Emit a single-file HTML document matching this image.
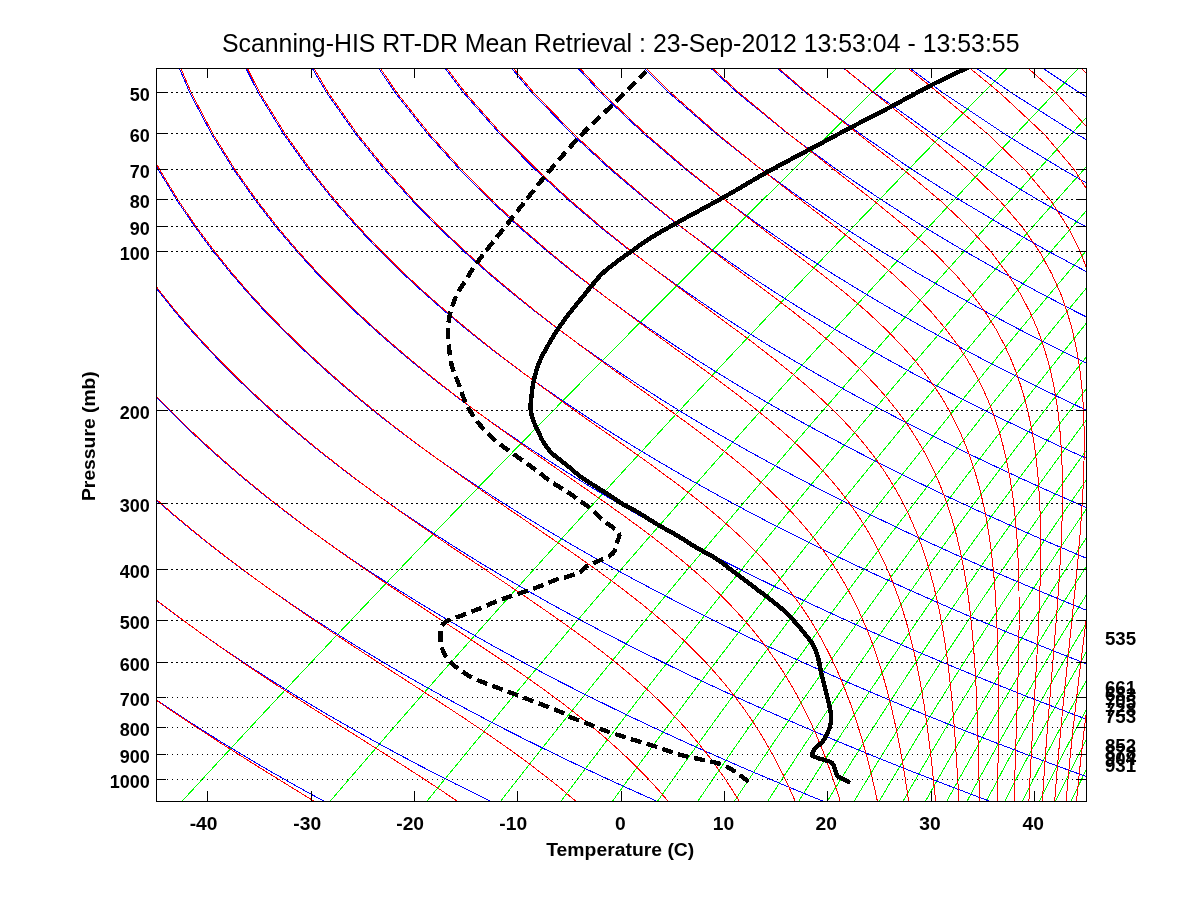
<!DOCTYPE html><html><head><meta charset="utf-8"><style>html,body{margin:0;padding:0;background:#fff;}svg{display:block}text{font-family:"Liberation Sans",Arial,Helvetica,sans-serif;}</style></head><body>
<svg width="1200" height="900" viewBox="0 0 1200 900">
<rect width="1200" height="900" fill="#fff"/>
<defs><clipPath id="c"><rect x="156" y="68" width="931" height="734"/></clipPath></defs>
<g clip-path="url(#c)" fill="none" stroke-width="1" shape-rendering="crispEdges">
<polyline points="992.1,-24.5 977.6,-10.5 963.2,3.5 948.7,17.5 934.3,31.5 919.9,45.5 905.6,59.5 891.2,73.5 876.9,87.5 862.6,101.5 848.3,115.5 834.1,129.5 819.8,143.5 805.6,157.5 791.5,171.5 777.3,185.5 763.2,199.5 749.1,213.5 735.0,227.5 720.9,241.5 706.9,255.5 692.9,269.5 678.9,283.5 665.0,297.5 651.0,311.5 637.1,325.5 623.3,339.5 609.4,353.5 595.6,367.5 581.8,381.5 568.0,395.5 554.3,409.5 540.6,423.5 526.9,437.5 513.2,451.5 499.6,465.5 486.0,479.5 472.5,493.5 458.9,507.5 445.4,521.5 431.9,535.5 418.5,549.5 405.1,563.5 391.7,577.5 378.3,591.5 365.0,605.5 351.7,619.5 338.4,633.5 325.2,647.5 312.0,661.5 298.8,675.5 285.7,689.5 272.6,703.5 259.5,717.5 246.5,731.5 233.5,745.5 220.5,759.5 207.6,773.5 194.7,787.5 181.8,801.5" stroke="#00ff00"/>
<polyline points="1099.1,-24.5 1085.2,-10.5 1071.3,3.5 1057.4,17.5 1043.6,31.5 1029.7,45.5 1015.9,59.5 1002.2,73.5 988.4,87.5 974.7,101.5 961.0,115.5 947.4,129.5 933.7,143.5 920.1,157.5 906.5,171.5 893.0,185.5 879.5,199.5 866.0,213.5 852.5,227.5 839.1,241.5 825.7,255.5 812.3,269.5 799.0,283.5 785.7,297.5 772.4,311.5 759.2,325.5 746.0,339.5 732.8,353.5 719.7,367.5 706.6,381.5 693.5,395.5 680.4,409.5 667.4,423.5 654.5,437.5 641.5,451.5 628.6,465.5 615.7,479.5 602.9,493.5 590.1,507.5 577.3,521.5 564.6,535.5 551.9,549.5 539.2,563.5 526.6,577.5 514.0,591.5 501.5,605.5 489.0,619.5 476.5,633.5 464.1,647.5 451.7,661.5 439.3,675.5 427.0,689.5 414.8,703.5 402.5,717.5 390.3,731.5 378.2,745.5 366.1,759.5 354.0,773.5 342.0,787.5 330.0,801.5" stroke="#00ff00"/>
<polyline points="1167.8,-24.5 1154.3,-10.5 1140.7,3.5 1127.2,17.5 1113.7,31.5 1100.3,45.5 1086.9,59.5 1073.5,73.5 1060.1,87.5 1046.8,101.5 1033.5,115.5 1020.2,129.5 1007.0,143.5 993.8,157.5 980.6,171.5 967.5,185.5 954.4,199.5 941.3,213.5 928.3,227.5 915.3,241.5 902.3,255.5 889.4,269.5 876.5,283.5 863.6,297.5 850.8,311.5 838.0,325.5 825.3,339.5 812.6,353.5 799.9,367.5 787.2,381.5 774.6,395.5 762.0,409.5 749.5,423.5 737.0,437.5 724.6,451.5 712.1,465.5 699.8,479.5 687.4,493.5 675.1,507.5 662.9,521.5 650.6,535.5 638.5,549.5 626.3,563.5 614.2,577.5 602.2,591.5 590.2,605.5 578.2,619.5 566.3,633.5 554.4,647.5 542.6,661.5 530.8,675.5 519.0,689.5 507.3,703.5 495.7,717.5 484.0,731.5 472.5,745.5 461.0,759.5 449.5,773.5 438.1,787.5 426.7,801.5" stroke="#00ff00"/>
<polyline points="1219.6,-24.5 1206.3,-10.5 1193.0,3.5 1179.8,17.5 1166.6,31.5 1153.5,45.5 1140.4,59.5 1127.3,73.5 1114.2,87.5 1101.2,101.5 1088.2,115.5 1075.3,129.5 1062.3,143.5 1049.5,157.5 1036.6,171.5 1023.8,185.5 1011.0,199.5 998.3,213.5 985.6,227.5 972.9,241.5 960.3,255.5 947.7,269.5 935.1,283.5 922.6,297.5 910.1,311.5 897.7,325.5 885.3,339.5 872.9,353.5 860.6,367.5 848.3,381.5 836.1,395.5 823.9,409.5 811.7,423.5 799.6,437.5 787.5,451.5 775.5,465.5 763.5,479.5 751.5,493.5 739.6,507.5 727.8,521.5 716.0,535.5 704.2,549.5 692.5,563.5 680.8,577.5 669.1,591.5 657.5,605.5 646.0,619.5 634.5,633.5 623.1,647.5 611.7,661.5 600.3,675.5 589.0,689.5 577.8,703.5 566.5,717.5 555.4,731.5 544.3,745.5 533.2,759.5 522.3,773.5 511.3,787.5 500.4,801.5" stroke="#00ff00"/>
<polyline points="1261.6,-24.5 1248.5,-10.5 1235.5,3.5 1222.5,17.5 1209.6,31.5 1196.7,45.5 1183.8,59.5 1171.0,73.5 1158.2,87.5 1145.4,101.5 1132.7,115.5 1120.0,129.5 1107.3,143.5 1094.7,157.5 1082.1,171.5 1069.6,185.5 1057.1,199.5 1044.6,213.5 1032.2,227.5 1019.8,241.5 1007.4,255.5 995.1,269.5 982.8,283.5 970.6,297.5 958.4,311.5 946.3,325.5 934.2,339.5 922.1,353.5 910.1,367.5 898.1,381.5 886.2,395.5 874.3,409.5 862.4,423.5 850.6,437.5 838.8,451.5 827.1,465.5 815.5,479.5 803.8,493.5 792.3,507.5 780.7,521.5 769.3,535.5 757.8,549.5 746.4,563.5 735.1,577.5 723.8,591.5 712.6,605.5 701.4,619.5 690.2,633.5 679.2,647.5 668.1,661.5 657.1,675.5 646.2,689.5 635.3,703.5 624.5,717.5 613.8,731.5 603.0,745.5 592.4,759.5 581.8,773.5 571.2,787.5 560.8,801.5" stroke="#00ff00"/>
<polyline points="1297.1,-24.5 1284.3,-10.5 1271.5,3.5 1258.7,17.5 1246.0,31.5 1233.3,45.5 1220.6,59.5 1208.0,73.5 1195.4,87.5 1182.9,101.5 1170.3,115.5 1157.9,129.5 1145.4,143.5 1133.1,157.5 1120.7,171.5 1108.4,185.5 1096.1,199.5 1083.9,213.5 1071.7,227.5 1059.5,241.5 1047.4,255.5 1035.4,269.5 1023.3,283.5 1011.4,297.5 999.4,311.5 987.5,325.5 975.7,339.5 963.9,353.5 952.1,367.5 940.4,381.5 928.7,395.5 917.1,409.5 905.5,423.5 894.0,437.5 882.5,451.5 871.1,465.5 859.7,479.5 848.3,493.5 837.0,507.5 825.8,521.5 814.6,535.5 803.5,549.5 792.4,563.5 781.3,577.5 770.4,591.5 759.4,605.5 748.6,619.5 737.7,633.5 727.0,647.5 716.2,661.5 705.6,675.5 695.0,689.5 684.4,703.5 673.9,717.5 663.5,731.5 653.1,745.5 642.8,759.5 632.6,773.5 622.4,787.5 612.3,801.5" stroke="#00ff00"/>
<polyline points="1328.1,-24.5 1315.4,-10.5 1302.8,3.5 1290.2,17.5 1277.7,31.5 1265.2,45.5 1252.7,59.5 1240.3,73.5 1227.9,87.5 1215.5,101.5 1203.2,115.5 1190.9,129.5 1178.7,143.5 1166.5,157.5 1154.3,171.5 1142.2,185.5 1130.2,199.5 1118.1,213.5 1106.2,227.5 1094.2,241.5 1082.3,255.5 1070.5,269.5 1058.7,283.5 1046.9,297.5 1035.2,311.5 1023.5,325.5 1011.9,339.5 1000.3,353.5 988.8,367.5 977.3,381.5 965.9,395.5 954.5,409.5 943.2,423.5 931.9,437.5 920.6,451.5 909.4,465.5 898.3,479.5 887.2,493.5 876.2,507.5 865.2,521.5 854.3,535.5 843.4,549.5 832.6,563.5 821.8,577.5 811.1,591.5 800.4,605.5 789.8,619.5 779.3,633.5 768.8,647.5 758.4,661.5 748.0,675.5 737.7,689.5 727.4,703.5 717.2,717.5 707.1,731.5 697.0,745.5 687.0,759.5 677.1,773.5 667.2,787.5 657.4,801.5" stroke="#00ff00"/>
<polyline points="1355.6,-24.5 1343.1,-10.5 1330.6,3.5 1318.2,17.5 1305.8,31.5 1293.5,45.5 1281.2,59.5 1268.9,73.5 1256.7,87.5 1244.5,101.5 1232.4,115.5 1220.3,129.5 1208.2,143.5 1196.2,157.5 1184.3,171.5 1172.3,185.5 1160.5,199.5 1148.6,213.5 1136.8,227.5 1125.1,241.5 1113.4,255.5 1101.7,269.5 1090.1,283.5 1078.6,297.5 1067.0,311.5 1055.6,325.5 1044.2,339.5 1032.8,353.5 1021.5,367.5 1010.2,381.5 999.0,395.5 987.8,409.5 976.7,423.5 965.6,437.5 954.6,451.5 943.6,465.5 932.7,479.5 921.9,493.5 911.1,507.5 900.3,521.5 889.6,535.5 879.0,549.5 868.4,563.5 857.9,577.5 847.4,591.5 837.0,605.5 826.6,619.5 816.3,633.5 806.1,647.5 795.9,661.5 785.8,675.5 775.8,689.5 765.8,703.5 755.9,717.5 746.0,731.5 736.2,745.5 726.5,759.5 716.8,773.5 707.2,787.5 697.7,801.5" stroke="#00ff00"/>
<polyline points="1380.3,-24.5 1368.0,-10.5 1355.7,3.5 1343.4,17.5 1331.2,31.5 1319.0,45.5 1306.9,59.5 1294.8,73.5 1282.7,87.5 1270.7,101.5 1258.7,115.5 1246.8,129.5 1234.9,143.5 1223.0,157.5 1211.2,171.5 1199.5,185.5 1187.8,199.5 1176.1,213.5 1164.5,227.5 1152.9,241.5 1141.4,255.5 1129.9,269.5 1118.5,283.5 1107.1,297.5 1095.8,311.5 1084.5,325.5 1073.3,339.5 1062.1,353.5 1051.0,367.5 1039.9,381.5 1028.9,395.5 1017.9,409.5 1007.0,423.5 996.1,437.5 985.3,451.5 974.5,465.5 963.8,479.5 953.2,493.5 942.6,507.5 932.0,521.5 921.6,535.5 911.1,549.5 900.8,563.5 890.5,577.5 880.2,591.5 870.1,605.5 859.9,619.5 849.9,633.5 839.9,647.5 829.9,661.5 820.1,675.5 810.3,689.5 800.5,703.5 790.8,717.5 781.2,731.5 771.7,745.5 762.2,759.5 752.8,773.5 743.5,787.5 734.2,801.5" stroke="#00ff00"/>
<polyline points="1402.9,-24.5 1390.7,-10.5 1378.5,3.5 1366.4,17.5 1354.3,31.5 1342.3,45.5 1330.3,59.5 1318.3,73.5 1306.4,87.5 1294.5,101.5 1282.7,115.5 1270.9,129.5 1259.2,143.5 1247.5,157.5 1235.9,171.5 1224.3,185.5 1212.7,199.5 1201.2,213.5 1189.8,227.5 1178.3,241.5 1167.0,255.5 1155.7,269.5 1144.4,283.5 1133.2,297.5 1122.0,311.5 1110.9,325.5 1099.9,339.5 1088.9,353.5 1077.9,367.5 1067.0,381.5 1056.2,395.5 1045.4,409.5 1034.6,423.5 1024.0,437.5 1013.3,451.5 1002.8,465.5 992.2,479.5 981.8,493.5 971.4,507.5 961.0,521.5 950.8,535.5 940.6,549.5 930.4,563.5 920.3,577.5 910.3,591.5 900.3,605.5 890.4,619.5 880.5,633.5 870.7,647.5 861.0,661.5 851.4,675.5 841.8,689.5 832.3,703.5 822.8,717.5 813.5,731.5 804.1,745.5 794.9,759.5 785.7,773.5 776.6,787.5 767.6,801.5" stroke="#00ff00"/>
<polyline points="1423.7,-24.5 1411.6,-10.5 1399.6,3.5 1387.6,17.5 1375.6,31.5 1363.7,45.5 1351.8,59.5 1340.0,73.5 1328.2,87.5 1316.5,101.5 1304.8,115.5 1293.2,129.5 1281.6,143.5 1270.0,157.5 1258.5,171.5 1247.1,185.5 1235.7,199.5 1224.3,213.5 1213.0,227.5 1201.7,241.5 1190.5,255.5 1179.4,269.5 1168.3,283.5 1157.2,297.5 1146.2,311.5 1135.2,325.5 1124.4,339.5 1113.5,353.5 1102.7,367.5 1092.0,381.5 1081.3,395.5 1070.7,409.5 1060.1,423.5 1049.6,437.5 1039.2,451.5 1028.8,465.5 1018.4,479.5 1008.2,493.5 997.9,507.5 987.8,521.5 977.7,535.5 967.7,549.5 957.7,563.5 947.8,577.5 937.9,591.5 928.2,605.5 918.5,619.5 908.8,633.5 899.2,647.5 889.7,661.5 880.3,675.5 870.9,689.5 861.6,703.5 852.4,717.5 843.2,731.5 834.1,745.5 825.1,759.5 816.1,773.5 807.3,787.5 798.5,801.5" stroke="#00ff00"/>
<polyline points="1442.9,-24.5 1430.9,-10.5 1419.0,3.5 1407.1,17.5 1395.3,31.5 1383.5,45.5 1371.8,59.5 1360.1,73.5 1348.4,87.5 1336.8,101.5 1325.3,115.5 1313.7,129.5 1302.3,143.5 1290.9,157.5 1279.5,171.5 1268.2,185.5 1256.9,199.5 1245.7,213.5 1234.5,227.5 1223.4,241.5 1212.3,255.5 1201.3,269.5 1190.4,283.5 1179.5,297.5 1168.6,311.5 1157.8,325.5 1147.1,339.5 1136.4,353.5 1125.7,367.5 1115.2,381.5 1104.6,395.5 1094.2,409.5 1083.8,423.5 1073.4,437.5 1063.1,451.5 1052.9,465.5 1042.7,479.5 1032.6,493.5 1022.6,507.5 1012.6,521.5 1002.7,535.5 992.8,549.5 983.0,563.5 973.3,577.5 963.6,591.5 954.1,605.5 944.5,619.5 935.1,633.5 925.7,647.5 916.4,661.5 907.1,675.5 897.9,689.5 888.8,703.5 879.8,717.5 870.8,731.5 861.9,745.5 853.1,759.5 844.4,773.5 835.7,787.5 827.2,801.5" stroke="#00ff00"/>
<polyline points="1460.8,-24.5 1448.9,-10.5 1437.1,3.5 1425.4,17.5 1413.6,31.5 1402.0,45.5 1390.3,59.5 1378.8,73.5 1367.2,87.5 1355.7,101.5 1344.3,115.5 1332.9,129.5 1321.6,143.5 1310.3,157.5 1299.1,171.5 1287.9,185.5 1276.7,199.5 1265.6,213.5 1254.6,227.5 1243.6,241.5 1232.7,255.5 1221.8,269.5 1211.0,283.5 1200.2,297.5 1189.5,311.5 1178.8,325.5 1168.2,339.5 1157.7,353.5 1147.2,367.5 1136.8,381.5 1126.4,395.5 1116.1,409.5 1105.8,423.5 1095.6,437.5 1085.5,451.5 1075.4,465.5 1065.4,479.5 1055.5,493.5 1045.6,507.5 1035.8,521.5 1026.0,535.5 1016.3,549.5 1006.7,563.5 997.1,577.5 987.6,591.5 978.2,605.5 968.9,619.5 959.6,633.5 950.4,647.5 941.2,661.5 932.2,675.5 923.2,689.5 914.3,703.5 905.4,717.5 896.7,731.5 888.0,745.5 879.3,759.5 870.8,773.5 862.3,787.5 854.0,801.5" stroke="#00ff00"/>
<polyline points="1477.5,-24.5 1465.8,-10.5 1454.1,3.5 1442.4,17.5 1430.8,31.5 1419.3,45.5 1407.7,59.5 1396.3,73.5 1384.9,87.5 1373.5,101.5 1362.2,115.5 1350.9,129.5 1339.7,143.5 1328.5,157.5 1317.4,171.5 1306.3,185.5 1295.3,199.5 1284.3,213.5 1273.4,227.5 1262.5,241.5 1251.7,255.5 1241.0,269.5 1230.3,283.5 1219.6,297.5 1209.1,311.5 1198.5,325.5 1188.1,339.5 1177.7,353.5 1167.3,367.5 1157.0,381.5 1146.8,395.5 1136.6,409.5 1126.5,423.5 1116.4,437.5 1106.5,451.5 1096.5,465.5 1086.7,479.5 1076.9,493.5 1067.1,507.5 1057.5,521.5 1047.9,535.5 1038.3,549.5 1028.9,563.5 1019.5,577.5 1010.2,591.5 1000.9,605.5 991.7,619.5 982.6,633.5 973.6,647.5 964.6,661.5 955.7,675.5 946.9,689.5 938.1,703.5 929.5,717.5 920.9,731.5 912.4,745.5 904.0,759.5 895.6,773.5 887.3,787.5 879.1,801.5" stroke="#00ff00"/>
<polyline points="1493.3,-24.5 1481.6,-10.5 1470.0,3.5 1458.5,17.5 1447.0,31.5 1435.5,45.5 1424.1,59.5 1412.7,73.5 1401.4,87.5 1390.2,101.5 1378.9,115.5 1367.8,129.5 1356.7,143.5 1345.6,157.5 1334.6,171.5 1323.6,185.5 1312.7,199.5 1301.9,213.5 1291.1,227.5 1280.3,241.5 1269.7,255.5 1259.0,269.5 1248.5,283.5 1237.9,297.5 1227.5,311.5 1217.1,325.5 1206.7,339.5 1196.5,353.5 1186.2,367.5 1176.1,381.5 1166.0,395.5 1155.9,409.5 1146.0,423.5 1136.0,437.5 1126.2,451.5 1116.4,465.5 1106.7,479.5 1097.0,493.5 1087.4,507.5 1077.9,521.5 1068.5,535.5 1059.1,549.5 1049.8,563.5 1040.5,577.5 1031.4,591.5 1022.3,605.5 1013.2,619.5 1004.3,633.5 995.4,647.5 986.6,661.5 977.9,675.5 969.2,689.5 960.6,703.5 952.2,717.5 943.7,731.5 935.4,745.5 927.1,759.5 919.0,773.5 910.9,787.5 902.9,801.5" stroke="#00ff00"/>
<polyline points="1508.1,-24.5 1496.6,-10.5 1485.1,3.5 1473.6,17.5 1462.2,31.5 1450.8,45.5 1439.5,59.5 1428.3,73.5 1417.0,87.5 1405.9,101.5 1394.8,115.5 1383.7,129.5 1372.7,143.5 1361.7,157.5 1350.8,171.5 1340.0,185.5 1329.2,199.5 1318.5,213.5 1307.8,227.5 1297.1,241.5 1286.6,255.5 1276.1,269.5 1265.6,283.5 1255.2,297.5 1244.9,311.5 1234.6,325.5 1224.4,339.5 1214.2,353.5 1204.1,367.5 1194.1,381.5 1184.1,395.5 1174.2,409.5 1164.3,423.5 1154.6,437.5 1144.8,451.5 1135.2,465.5 1125.6,479.5 1116.1,493.5 1106.6,507.5 1097.2,521.5 1087.9,535.5 1078.7,549.5 1069.5,563.5 1060.4,577.5 1051.4,591.5 1042.5,605.5 1033.6,619.5 1024.8,633.5 1016.0,647.5 1007.4,661.5 998.8,675.5 990.3,689.5 981.9,703.5 973.6,717.5 965.3,731.5 957.2,745.5 949.1,759.5 941.1,773.5 933.2,787.5 925.3,801.5" stroke="#00ff00"/>
<polyline points="1522.2,-24.5 1510.7,-10.5 1499.3,3.5 1487.9,17.5 1476.6,31.5 1465.3,45.5 1454.1,59.5 1442.9,73.5 1431.8,87.5 1420.8,101.5 1409.7,115.5 1398.8,129.5 1387.9,143.5 1377.0,157.5 1366.2,171.5 1355.5,185.5 1344.8,199.5 1334.2,213.5 1323.6,227.5 1313.1,241.5 1302.6,255.5 1292.2,269.5 1281.8,283.5 1271.6,297.5 1261.3,311.5 1251.2,325.5 1241.1,339.5 1231.0,353.5 1221.0,367.5 1211.1,381.5 1201.3,395.5 1191.5,409.5 1181.7,423.5 1172.1,437.5 1162.5,451.5 1153.0,465.5 1143.5,479.5 1134.1,493.5 1124.8,507.5 1115.6,521.5 1106.4,535.5 1097.3,549.5 1088.2,563.5 1079.3,577.5 1070.4,591.5 1061.6,605.5 1052.9,619.5 1044.2,633.5 1035.6,647.5 1027.1,661.5 1018.7,675.5 1010.4,689.5 1002.1,703.5 993.9,717.5 985.8,731.5 977.8,745.5 969.9,759.5 962.1,773.5 954.3,787.5 946.6,801.5" stroke="#00ff00"/>
<polyline points="1535.5,-24.5 1524.1,-10.5 1512.8,3.5 1501.5,17.5 1490.3,31.5 1479.1,45.5 1468.0,59.5 1456.9,73.5 1445.9,87.5 1434.9,101.5 1424.0,115.5 1413.1,129.5 1402.3,143.5 1391.5,157.5 1380.8,171.5 1370.2,185.5 1359.6,199.5 1349.1,213.5 1338.6,227.5 1328.2,241.5 1317.8,255.5 1307.5,269.5 1297.3,283.5 1287.1,297.5 1277.0,311.5 1266.9,325.5 1256.9,339.5 1247.0,353.5 1237.1,367.5 1227.3,381.5 1217.6,395.5 1207.9,409.5 1198.3,423.5 1188.7,437.5 1179.3,451.5 1169.9,465.5 1160.5,479.5 1151.3,493.5 1142.1,507.5 1133.0,521.5 1123.9,535.5 1114.9,549.5 1106.0,563.5 1097.2,577.5 1088.5,591.5 1079.8,605.5 1071.2,619.5 1062.7,633.5 1054.2,647.5 1045.9,661.5 1037.6,675.5 1029.4,689.5 1021.3,703.5 1013.3,717.5 1005.3,731.5 997.4,745.5 989.7,759.5 982.0,773.5 974.4,787.5 966.9,801.5" stroke="#00ff00"/>
<polyline points="1548.1,-24.5 1536.8,-10.5 1525.6,3.5 1514.4,17.5 1503.2,31.5 1492.2,45.5 1481.1,59.5 1470.1,73.5 1459.2,87.5 1448.3,101.5 1437.5,115.5 1426.7,129.5 1416.0,143.5 1405.3,157.5 1394.7,171.5 1384.2,185.5 1373.7,199.5 1363.2,213.5 1352.8,227.5 1342.5,241.5 1332.3,255.5 1322.1,269.5 1311.9,283.5 1301.8,297.5 1291.8,311.5 1281.9,325.5 1272.0,339.5 1262.2,353.5 1252.4,367.5 1242.7,381.5 1233.1,395.5 1223.5,409.5 1214.0,423.5 1204.6,437.5 1195.2,451.5 1186.0,465.5 1176.7,479.5 1167.6,493.5 1158.5,507.5 1149.5,521.5 1140.6,535.5 1131.7,549.5 1123.0,563.5 1114.3,577.5 1105.6,591.5 1097.1,605.5 1088.6,619.5 1080.3,633.5 1071.9,647.5 1063.7,661.5 1055.6,675.5 1047.5,689.5 1039.6,703.5 1031.7,717.5 1023.9,731.5 1016.2,745.5 1008.5,759.5 1001.0,773.5 993.6,787.5 986.2,801.5" stroke="#00ff00"/>
<polyline points="1560.2,-24.5 1549.0,-10.5 1537.8,3.5 1526.7,17.5 1515.6,31.5 1504.6,45.5 1493.7,59.5 1482.7,73.5 1471.9,87.5 1461.1,101.5 1450.4,115.5 1439.7,129.5 1429.0,143.5 1418.5,157.5 1407.9,171.5 1397.5,185.5 1387.1,199.5 1376.7,213.5 1366.4,227.5 1356.2,241.5 1346.1,255.5 1335.9,269.5 1325.9,283.5 1315.9,297.5 1306.0,311.5 1296.2,325.5 1286.4,339.5 1276.6,353.5 1267.0,367.5 1257.4,381.5 1247.9,395.5 1238.4,409.5 1229.0,423.5 1219.7,437.5 1210.5,451.5 1201.3,465.5 1192.2,479.5 1183.2,493.5 1174.2,507.5 1165.3,521.5 1156.5,535.5 1147.8,549.5 1139.1,563.5 1130.5,577.5 1122.1,591.5 1113.6,605.5 1105.3,619.5 1097.0,633.5 1088.9,647.5 1080.8,661.5 1072.8,675.5 1064.8,689.5 1057.0,703.5 1049.2,717.5 1041.6,731.5 1034.0,745.5 1026.5,759.5 1019.1,773.5 1011.8,787.5 1004.6,801.5" stroke="#00ff00"/>
<polyline points="1571.7,-24.5 1560.6,-10.5 1549.5,3.5 1538.4,17.5 1527.4,31.5 1516.5,45.5 1505.6,59.5 1494.8,73.5 1484.0,87.5 1473.3,101.5 1462.7,115.5 1452.0,129.5 1441.5,143.5 1431.0,157.5 1420.6,171.5 1410.2,185.5 1399.9,199.5 1389.6,213.5 1379.4,227.5 1369.3,241.5 1359.2,255.5 1349.2,269.5 1339.3,283.5 1329.4,297.5 1319.6,311.5 1309.8,325.5 1300.1,339.5 1290.5,353.5 1280.9,367.5 1271.4,381.5 1262.0,395.5 1252.7,409.5 1243.4,423.5 1234.2,437.5 1225.0,451.5 1216.0,465.5 1207.0,479.5 1198.0,493.5 1189.2,507.5 1180.4,521.5 1171.7,535.5 1163.1,549.5 1154.6,563.5 1146.1,577.5 1137.7,591.5 1129.4,605.5 1121.2,619.5 1113.1,633.5 1105.0,647.5 1097.1,661.5 1089.2,675.5 1081.4,689.5 1073.7,703.5 1066.1,717.5 1058.5,731.5 1051.1,745.5 1043.7,759.5 1036.5,773.5 1029.3,787.5 1022.3,801.5" stroke="#00ff00"/>
<polyline points="1582.7,-24.5 1571.6,-10.5 1560.6,3.5 1549.6,17.5 1538.7,31.5 1527.9,45.5 1517.1,59.5 1506.3,73.5 1495.6,87.5 1485.0,101.5 1474.4,115.5 1463.9,129.5 1453.4,143.5 1443.0,157.5 1432.7,171.5 1422.4,185.5 1412.1,199.5 1402.0,213.5 1391.8,227.5 1381.8,241.5 1371.8,255.5 1361.9,269.5 1352.0,283.5 1342.2,297.5 1332.5,311.5 1322.8,325.5 1313.2,339.5 1303.7,353.5 1294.3,367.5 1284.9,381.5 1275.5,395.5 1266.3,409.5 1257.1,423.5 1248.0,437.5 1239.0,451.5 1230.0,465.5 1221.1,479.5 1212.3,493.5 1203.5,507.5 1194.9,521.5 1186.3,535.5 1177.8,549.5 1169.4,563.5 1161.0,577.5 1152.7,591.5 1144.6,605.5 1136.5,619.5 1128.4,633.5 1120.5,647.5 1112.7,661.5 1104.9,675.5 1097.2,689.5 1089.7,703.5 1082.2,717.5 1074.8,731.5 1067.5,745.5 1060.2,759.5 1053.1,773.5 1046.1,787.5 1039.2,801.5" stroke="#00ff00"/>
<polyline points="1593.2,-24.5 1582.2,-10.5 1571.3,3.5 1560.4,17.5 1549.5,31.5 1538.8,45.5 1528.0,59.5 1517.4,73.5 1506.7,87.5 1496.2,101.5 1485.7,115.5 1475.2,129.5 1464.8,143.5 1454.5,157.5 1444.2,171.5 1434.0,185.5 1423.9,199.5 1413.8,213.5 1403.7,227.5 1393.8,241.5 1383.9,255.5 1374.0,269.5 1364.3,283.5 1354.6,297.5 1344.9,311.5 1335.3,325.5 1325.8,339.5 1316.4,353.5 1307.0,367.5 1297.7,381.5 1288.5,395.5 1279.3,409.5 1270.3,423.5 1261.2,437.5 1252.3,451.5 1243.4,465.5 1234.6,479.5 1225.9,493.5 1217.3,507.5 1208.7,521.5 1200.3,535.5 1191.9,549.5 1183.5,563.5 1175.3,577.5 1167.1,591.5 1159.1,605.5 1151.1,619.5 1143.2,633.5 1135.4,647.5 1127.6,661.5 1120.0,675.5 1112.4,689.5 1105.0,703.5 1097.6,717.5 1090.3,731.5 1083.1,745.5 1076.1,759.5 1069.1,773.5 1062.2,787.5 1055.4,801.5" stroke="#00ff00"/>
<polyline points="1603.3,-24.5 1592.4,-10.5 1581.5,3.5 1570.7,17.5 1559.9,31.5 1549.2,45.5 1538.5,59.5 1527.9,73.5 1517.4,87.5 1506.9,101.5 1496.5,115.5 1486.1,129.5 1475.8,143.5 1465.5,157.5 1455.3,171.5 1445.2,185.5 1435.1,199.5 1425.1,213.5 1415.1,227.5 1405.3,241.5 1395.4,255.5 1385.7,269.5 1376.0,283.5 1366.4,297.5 1356.8,311.5 1347.3,325.5 1337.9,339.5 1328.6,353.5 1319.3,367.5 1310.1,381.5 1300.9,395.5 1291.9,409.5 1282.9,423.5 1273.9,437.5 1265.1,451.5 1256.3,465.5 1247.6,479.5 1239.0,493.5 1230.5,507.5 1222.0,521.5 1213.6,535.5 1205.3,549.5 1197.1,563.5 1189.0,577.5 1180.9,591.5 1173.0,605.5 1165.1,619.5 1157.3,633.5 1149.6,647.5 1142.0,661.5 1134.5,675.5 1127.0,689.5 1119.7,703.5 1112.4,717.5 1105.3,731.5 1098.2,745.5 1091.2,759.5 1084.4,773.5 1077.6,787.5 1070.9,801.5" stroke="#00ff00"/>
<polyline points="1613.0,-24.5 1602.1,-10.5 1591.3,3.5 1580.6,17.5 1569.8,31.5 1559.2,45.5 1548.6,59.5 1538.1,73.5 1527.6,87.5 1517.2,101.5 1506.8,115.5 1496.5,129.5 1486.3,143.5 1476.1,157.5 1466.0,171.5 1455.9,185.5 1445.9,199.5 1436.0,213.5 1426.1,227.5 1416.3,241.5 1406.6,255.5 1396.9,269.5 1387.3,283.5 1377.7,297.5 1368.2,311.5 1358.8,325.5 1349.5,339.5 1340.2,353.5 1331.0,367.5 1321.9,381.5 1312.9,395.5 1303.9,409.5 1295.0,423.5 1286.2,437.5 1277.4,451.5 1268.7,465.5 1260.1,479.5 1251.6,493.5 1243.2,507.5 1234.8,521.5 1226.5,535.5 1218.3,549.5 1210.2,563.5 1202.2,577.5 1194.2,591.5 1186.4,605.5 1178.6,619.5 1170.9,633.5 1163.3,647.5 1155.8,661.5 1148.4,675.5 1141.1,689.5 1133.8,703.5 1126.7,717.5 1119.6,731.5 1112.7,745.5 1105.9,759.5 1099.1,773.5 1092.5,787.5 1085.9,801.5" stroke="#00ff00"/>
<polyline points="1622.3,-24.5 1611.5,-10.5 1600.7,3.5 1590.0,17.5 1579.4,31.5 1568.8,45.5 1558.3,59.5 1547.8,73.5 1537.4,87.5 1527.1,101.5 1516.8,115.5 1506.5,129.5 1496.4,143.5 1486.2,157.5 1476.2,171.5 1466.2,185.5 1456.3,199.5 1446.4,213.5 1436.6,227.5 1426.9,241.5 1417.2,255.5 1407.6,269.5 1398.1,283.5 1388.6,297.5 1379.2,311.5 1369.9,325.5 1360.7,339.5 1351.5,353.5 1342.4,367.5 1333.3,381.5 1324.3,395.5 1315.5,409.5 1306.6,423.5 1297.9,437.5 1289.2,451.5 1280.6,465.5 1272.1,479.5 1263.7,493.5 1255.3,507.5 1247.1,521.5 1238.9,535.5 1230.8,549.5 1222.8,563.5 1214.8,577.5 1207.0,591.5 1199.2,605.5 1191.6,619.5 1184.0,633.5 1176.5,647.5 1169.1,661.5 1161.8,675.5 1154.5,689.5 1147.4,703.5 1140.4,717.5 1133.5,731.5 1126.6,745.5 1119.9,759.5 1113.3,773.5 1106.7,787.5 1100.3,801.5" stroke="#00ff00"/>
<polyline points="1631.2,-24.5 1620.5,-10.5 1609.8,3.5 1599.2,17.5 1588.6,31.5 1578.1,45.5 1567.6,59.5 1557.2,73.5 1546.9,87.5 1536.6,101.5 1526.3,115.5 1516.2,129.5 1506.1,143.5 1496.0,157.5 1486.0,171.5 1476.1,185.5 1466.3,199.5 1456.5,213.5 1446.7,227.5 1437.1,241.5 1427.5,255.5 1418.0,269.5 1408.5,283.5 1399.1,297.5 1389.8,311.5 1380.6,325.5 1371.4,339.5 1362.3,353.5 1353.2,367.5 1344.3,381.5 1335.4,395.5 1326.6,409.5 1317.8,423.5 1309.2,437.5 1300.6,451.5 1292.1,465.5 1283.7,479.5 1275.3,493.5 1267.1,507.5 1258.9,521.5 1250.8,535.5 1242.8,549.5 1234.9,563.5 1227.0,577.5 1219.3,591.5 1211.6,605.5 1204.0,619.5 1196.6,633.5 1189.2,647.5 1181.9,661.5 1174.7,675.5 1167.5,689.5 1160.5,703.5 1153.6,717.5 1146.8,731.5 1140.1,745.5 1133.4,759.5 1126.9,773.5 1120.5,787.5 1114.2,801.5" stroke="#00ff00"/>
<polyline points="1639.8,-24.5 1629.2,-10.5 1618.5,3.5 1607.9,17.5 1597.4,31.5 1587.0,45.5 1576.6,59.5 1566.2,73.5 1555.9,87.5 1545.7,101.5 1535.5,115.5 1525.4,129.5 1515.4,143.5 1505.4,157.5 1495.5,171.5 1485.7,185.5 1475.9,199.5 1466.1,213.5 1456.5,227.5 1446.9,241.5 1437.4,255.5 1427.9,269.5 1418.5,283.5 1409.2,297.5 1400.0,311.5 1390.8,325.5 1381.7,339.5 1372.7,353.5 1363.7,367.5 1354.8,381.5 1346.0,395.5 1337.3,409.5 1328.6,423.5 1320.1,437.5 1311.6,451.5 1303.2,465.5 1294.8,479.5 1286.6,493.5 1278.4,507.5 1270.3,521.5 1262.3,535.5 1254.4,549.5 1246.5,563.5 1238.8,577.5 1231.1,591.5 1223.5,605.5 1216.1,619.5 1208.7,633.5 1201.4,647.5 1194.2,661.5 1187.1,675.5 1180.1,689.5 1173.1,703.5 1166.3,717.5 1159.6,731.5 1153.0,745.5 1146.5,759.5 1140.1,773.5 1133.8,787.5 1127.6,801.5" stroke="#00ff00"/>
<polyline points="-232.8,-117.5 -265.2,-24.5 -281.3,41.5 -289.5,92.7 -293.2,134.5 -294.1,169.8 -293.2,200.4 -291.0,227.5 -287.9,251.6 -284.2,273.5 -279.9,293.4 -275.4,311.8 -270.5,328.8 -265.5,344.6 -260.3,359.4 -254.9,373.3 -249.5,386.4 -244.1,398.8 -238.5,410.6 -233.0,421.8 -227.5,432.4 -221.9,442.6 -216.4,452.4 -210.8,461.7 -205.3,470.7 -199.8,479.4 -194.3,487.7 -188.8,495.8 -183.4,503.5 -178.0,511.1 -172.6,518.3 -167.3,525.4 -162.0,532.3 -156.7,538.9 -151.5,545.4 -146.3,551.6 -141.1,557.8 -136.0,563.7 -130.9,569.5 -125.8,575.2 -120.8,580.7 -115.8,586.1 -110.9,591.4 -105.9,596.5 -101.0,601.6 -96.2,606.5 -91.3,611.3 -86.6,616.1 -81.8,620.7 -77.1,625.2 -72.4,629.7 -67.7,634.1 -63.1,638.3 -58.5,642.5 -53.9,646.7 -49.3,650.7 -44.8,654.7 -40.3,658.6 -35.9,662.5 -31.4,666.3 -27.0,670.0 -22.7,673.7 -18.3,677.3 -14.0,680.9 -9.7,684.4 -5.4,687.8 -1.2,691.2 3.0,694.6 7.2,697.9 11.4,701.1 15.6,704.3 19.7,707.5 23.8,710.6 27.9,713.7 31.9,716.7 35.9,719.7 39.9,722.7 43.9,725.6 47.9,728.5 51.8,731.3 55.8,734.1 59.7,736.9 63.6,739.7 67.4,742.4 71.3,745.1 75.1,747.7 78.9,750.3 82.7,752.9 86.4,755.5 90.2,758.0 93.9,760.5 97.6,763.0 101.3,765.5 105.0,767.9 108.6,770.3 112.3,772.7 115.9,775.0 119.5,777.3 123.1,779.6 126.7,781.9 130.2,784.2 133.8,786.4 137.3,788.6 140.8,790.8 144.3,793.0 147.8,795.2 151.2,797.3 154.7,799.4 158.1,801.5" stroke="#0000ff"/>
<polyline points="-180.2,-117.5 -206.1,-24.5 -217.1,41.5 -221.1,92.7 -221.1,134.5 -218.7,169.8 -214.8,200.4 -209.9,227.5 -204.4,251.6 -198.3,273.5 -191.9,293.4 -185.3,311.8 -178.5,328.8 -171.6,344.6 -164.6,359.4 -157.6,373.3 -150.6,386.4 -143.6,398.8 -136.6,410.6 -129.6,421.8 -122.7,432.4 -115.8,442.6 -108.9,452.4 -102.1,461.7 -95.3,470.7 -88.6,479.4 -82.0,487.7 -75.4,495.8 -68.8,503.5 -62.3,511.1 -55.9,518.3 -49.5,525.4 -43.2,532.3 -37.0,538.9 -30.7,545.4 -24.6,551.6 -18.5,557.8 -12.4,563.7 -6.4,569.5 -0.5,575.2 5.4,580.7 11.3,586.1 17.1,591.4 22.8,596.5 28.5,601.6 34.2,606.5 39.8,611.3 45.4,616.1 50.9,620.7 56.4,625.2 61.8,629.7 67.3,634.1 72.6,638.3 77.9,642.5 83.2,646.7 88.5,650.7 93.7,654.7 98.8,658.6 104.0,662.5 109.1,666.3 114.1,670.0 119.2,673.7 124.2,677.3 129.1,680.9 134.0,684.4 138.9,687.8 143.8,691.2 148.6,694.6 153.4,697.9 158.2,701.1 162.9,704.3 167.6,707.5 172.3,710.6 177.0,713.7 181.6,716.7 186.2,719.7 190.8,722.7 195.3,725.6 199.8,728.5 204.3,731.3 208.8,734.1 213.2,736.9 217.6,739.7 222.0,742.4 226.4,745.1 230.7,747.7 235.0,750.3 239.3,752.9 243.6,755.5 247.8,758.0 252.0,760.5 256.2,763.0 260.4,765.5 264.6,767.9 268.7,770.3 272.8,772.7 276.9,775.0 281.0,777.3 285.1,779.6 289.1,781.9 293.1,784.2 297.1,786.4 301.1,788.6 305.0,790.8 309.0,793.0 312.9,795.2 316.8,797.3 320.7,799.4 324.6,801.5" stroke="#0000ff"/>
<polyline points="-127.6,-117.5 -147.0,-24.5 -152.9,41.5 -152.6,92.7 -148.9,134.5 -143.3,169.8 -136.5,200.4 -128.9,227.5 -120.8,251.6 -112.4,273.5 -103.8,293.4 -95.2,311.8 -86.4,328.8 -77.7,344.6 -69.0,359.4 -60.3,373.3 -51.7,386.4 -43.1,398.8 -34.6,410.6 -26.2,421.8 -17.8,432.4 -9.6,442.6 -1.4,452.4 6.6,461.7 14.6,470.7 22.5,479.4 30.4,487.7 38.1,495.8 45.8,503.5 53.3,511.1 60.8,518.3 68.2,525.4 75.6,532.3 82.8,538.9 90.0,545.4 97.1,551.6 104.2,557.8 111.1,563.7 118.0,569.5 124.9,575.2 131.6,580.7 138.3,586.1 145.0,591.4 151.6,596.5 158.1,601.6 164.6,606.5 171.0,611.3 177.3,616.1 183.6,620.7 189.9,625.2 196.1,629.7 202.2,634.1 208.3,638.3 214.3,642.5 220.3,646.7 226.3,650.7 232.2,654.7 238.0,658.6 243.8,662.5 249.6,666.3 255.3,670.0 261.0,673.7 266.6,677.3 272.2,680.9 277.8,684.4 283.3,687.8 288.8,691.2 294.2,694.6 299.6,697.9 305.0,701.1 310.3,704.3 315.6,707.5 320.9,710.6 326.1,713.7 331.3,716.7 336.4,719.7 341.6,722.7 346.7,725.6 351.7,728.5 356.8,731.3 361.8,734.1 366.7,736.9 371.7,739.7 376.6,742.4 381.5,745.1 386.3,747.7 391.1,750.3 395.9,752.9 400.7,755.5 405.5,758.0 410.2,760.5 414.9,763.0 419.5,765.5 424.2,767.9 428.8,770.3 433.4,772.7 438.0,775.0 442.5,777.3 447.0,779.6 451.5,781.9 456.0,784.2 460.5,786.4 464.9,788.6 469.3,790.8 473.7,793.0 478.1,795.2 482.4,797.3 486.7,799.4 491.0,801.5" stroke="#0000ff"/>
<polyline points="-75.0,-117.5 -87.9,-24.5 -88.7,41.5 -84.1,92.7 -76.8,134.5 -67.9,169.8 -58.1,200.4 -47.8,227.5 -37.2,251.6 -26.5,273.5 -15.8,293.4 -5.1,311.8 5.6,328.8 16.2,344.6 26.7,359.4 37.0,373.3 47.3,386.4 57.4,398.8 67.4,410.6 77.2,421.8 87.0,432.4 96.6,442.6 106.0,452.4 115.4,461.7 124.6,470.7 133.7,479.4 142.7,487.7 151.6,495.8 160.3,503.5 169.0,511.1 177.5,518.3 186.0,525.4 194.3,532.3 202.6,538.9 210.8,545.4 218.8,551.6 226.8,557.8 234.7,563.7 242.5,569.5 250.2,575.2 257.9,580.7 265.4,586.1 272.9,591.4 280.3,596.5 287.7,601.6 294.9,606.5 302.1,611.3 309.3,616.1 316.3,620.7 323.3,625.2 330.3,629.7 337.2,634.1 344.0,638.3 350.7,642.5 357.4,646.7 364.1,650.7 370.7,654.7 377.2,658.6 383.7,662.5 390.1,666.3 396.5,670.0 402.8,673.7 409.1,677.3 415.3,680.9 421.5,684.4 427.6,687.8 433.7,691.2 439.8,694.6 445.8,697.9 451.8,701.1 457.7,704.3 463.6,707.5 469.4,710.6 475.2,713.7 481.0,716.7 486.7,719.7 492.4,722.7 498.0,725.6 503.6,728.5 509.2,731.3 514.7,734.1 520.2,736.9 525.7,739.7 531.2,742.4 536.6,745.1 541.9,747.7 547.3,750.3 552.6,752.9 557.9,755.5 563.1,758.0 568.3,760.5 573.5,763.0 578.7,765.5 583.8,767.9 588.9,770.3 594.0,772.7 599.0,775.0 604.0,777.3 609.0,779.6 614.0,781.9 618.9,784.2 623.8,786.4 628.7,788.6 633.6,790.8 638.4,793.0 643.2,795.2 648.0,797.3 652.8,799.4 657.5,801.5" stroke="#0000ff"/>
<polyline points="-22.3,-117.5 -28.8,-24.5 -24.5,41.5 -15.7,92.7 -4.6,134.5 7.5,169.8 20.3,200.4 33.3,227.5 46.3,251.6 59.3,273.5 72.3,293.4 85.0,311.8 97.6,328.8 110.1,344.6 122.3,359.4 134.4,373.3 146.2,386.4 157.9,398.8 169.4,410.6 180.7,421.8 191.8,432.4 202.7,442.6 213.5,452.4 224.1,461.7 234.6,470.7 244.9,479.4 255.0,487.7 265.1,495.8 274.9,503.5 284.7,511.1 294.3,518.3 303.8,525.4 313.1,532.3 322.4,538.9 331.5,545.4 340.5,551.6 349.4,557.8 358.3,563.7 367.0,569.5 375.6,575.2 384.1,580.7 392.5,586.1 400.8,591.4 409.1,596.5 417.2,601.6 425.3,606.5 433.3,611.3 441.2,616.1 449.0,620.7 456.8,625.2 464.5,629.7 472.1,634.1 479.7,638.3 487.1,642.5 494.5,646.7 501.9,650.7 509.2,654.7 516.4,658.6 523.5,662.5 530.6,666.3 537.7,670.0 544.6,673.7 551.6,677.3 558.4,680.9 565.2,684.4 572.0,687.8 578.7,691.2 585.4,694.6 592.0,697.9 598.5,701.1 605.1,704.3 611.5,707.5 617.9,710.6 624.3,713.7 630.6,716.7 636.9,719.7 643.2,722.7 649.4,725.6 655.5,728.5 661.7,731.3 667.7,734.1 673.8,736.9 679.8,739.7 685.7,742.4 691.7,745.1 697.5,747.7 703.4,750.3 709.2,752.9 715.0,755.5 720.7,758.0 726.5,760.5 732.1,763.0 737.8,765.5 743.4,767.9 749.0,770.3 754.5,772.7 760.0,775.0 765.5,777.3 771.0,779.6 776.4,781.9 781.8,784.2 787.2,786.4 792.5,788.6 797.8,790.8 803.1,793.0 808.4,795.2 813.6,797.3 818.8,799.4 824.0,801.5" stroke="#0000ff"/>
<polyline points="30.3,-117.5 30.3,-24.5 39.7,41.5 52.8,92.7 67.5,134.5 82.9,169.8 98.6,200.4 114.3,227.5 129.9,251.6 145.2,273.5 160.3,293.4 175.1,311.8 189.7,328.8 204.0,344.6 218.0,359.4 231.7,373.3 245.2,386.4 258.4,398.8 271.3,410.6 284.1,421.8 296.6,432.4 308.9,442.6 321.0,452.4 332.9,461.7 344.5,470.7 356.0,479.4 367.4,487.7 378.5,495.8 389.5,503.5 400.3,511.1 411.0,518.3 421.5,525.4 431.9,532.3 442.2,538.9 452.3,545.4 462.2,551.6 472.1,557.8 481.8,563.7 491.4,569.5 500.9,575.2 510.3,580.7 519.6,586.1 528.8,591.4 537.8,596.5 546.8,601.6 555.7,606.5 564.5,611.3 573.2,616.1 581.8,620.7 590.3,625.2 598.7,629.7 607.1,634.1 615.3,638.3 623.5,642.5 631.6,646.7 639.7,650.7 647.7,654.7 655.6,658.6 663.4,662.5 671.1,666.3 678.8,670.0 686.5,673.7 694.0,677.3 701.5,680.9 709.0,684.4 716.4,687.8 723.7,691.2 731.0,694.6 738.2,697.9 745.3,701.1 752.4,704.3 759.5,707.5 766.5,710.6 773.4,713.7 780.3,716.7 787.2,719.7 794.0,722.7 800.7,725.6 807.4,728.5 814.1,731.3 820.7,734.1 827.3,736.9 833.8,739.7 840.3,742.4 846.8,745.1 853.2,747.7 859.5,750.3 865.9,752.9 872.1,755.5 878.4,758.0 884.6,760.5 890.8,763.0 896.9,765.5 903.0,767.9 909.1,770.3 915.1,772.7 921.1,775.0 927.0,777.3 933.0,779.6 938.8,781.9 944.7,784.2 950.5,786.4 956.3,788.6 962.1,790.8 967.8,793.0 973.5,795.2 979.2,797.3 984.8,799.4 990.5,801.5" stroke="#0000ff"/>
<polyline points="82.9,-117.5 89.4,-24.5 103.9,41.5 121.2,92.7 139.7,134.5 158.4,169.8 177.0,200.4 195.4,227.5 213.4,251.6 231.1,273.5 248.4,293.4 265.2,311.8 281.7,328.8 297.8,344.6 313.6,359.4 329.0,373.3 344.1,386.4 358.9,398.8 373.3,410.6 387.5,421.8 401.4,432.4 415.0,442.6 428.4,452.4 441.6,461.7 454.5,470.7 467.2,479.4 479.7,487.7 492.0,495.8 504.1,503.5 516.0,511.1 527.7,518.3 539.3,525.4 550.7,532.3 561.9,538.9 573.0,545.4 583.9,551.6 594.7,557.8 605.4,563.7 615.9,569.5 626.3,575.2 636.5,580.7 646.7,586.1 656.7,591.4 666.6,596.5 676.4,601.6 686.1,606.5 695.6,611.3 705.1,616.1 714.5,620.7 723.7,625.2 732.9,629.7 742.0,634.1 751.0,638.3 759.9,642.5 768.7,646.7 777.5,650.7 786.1,654.7 794.7,658.6 803.2,662.5 811.7,666.3 820.0,670.0 828.3,673.7 836.5,677.3 844.6,680.9 852.7,684.4 860.7,687.8 868.7,691.2 876.5,694.6 884.4,697.9 892.1,701.1 899.8,704.3 907.5,707.5 915.0,710.6 922.6,713.7 930.0,716.7 937.4,719.7 944.8,722.7 952.1,725.6 959.4,728.5 966.6,731.3 973.7,734.1 980.8,736.9 987.9,739.7 994.9,742.4 1001.9,745.1 1008.8,747.7 1015.7,750.3 1022.5,752.9 1029.3,755.5 1036.0,758.0 1042.7,760.5 1049.4,763.0 1056.0,765.5 1062.6,767.9 1069.1,770.3 1075.6,772.7 1082.1,775.0 1088.5,777.3 1094.9,779.6 1101.3,781.9 1107.6,784.2 1113.9,786.4 1120.1,788.6 1126.4,790.8 1132.5,793.0 1138.7,795.2 1144.8,797.3 1150.9,799.4 1156.9,801.5" stroke="#0000ff"/>
<polyline points="135.5,-117.5 148.5,-24.5 168.1,41.5 189.7,92.7 211.8,134.5 233.8,169.8 255.4,200.4 276.4,227.5 297.0,251.6 317.0,273.5 336.4,293.4 355.3,311.8 373.8,328.8 391.7,344.6 409.2,359.4 426.3,373.3 443.0,386.4 459.3,398.8 475.3,410.6 490.9,421.8 506.2,432.4 521.2,442.6 535.9,452.4 550.3,461.7 564.5,470.7 578.4,479.4 592.0,487.7 605.5,495.8 618.7,503.5 631.7,511.1 644.5,518.3 657.1,525.4 669.5,532.3 681.7,538.9 693.8,545.4 705.7,551.6 717.4,557.8 728.9,563.7 740.4,569.5 751.6,575.2 762.8,580.7 773.7,586.1 784.6,591.4 795.3,596.5 805.9,601.6 816.4,606.5 826.8,611.3 837.0,616.1 847.2,620.7 857.2,625.2 867.1,629.7 877.0,634.1 886.7,638.3 896.3,642.5 905.9,646.7 915.3,650.7 924.6,654.7 933.9,658.6 943.1,662.5 952.2,666.3 961.2,670.0 970.1,673.7 979.0,677.3 987.8,680.9 996.5,684.4 1005.1,687.8 1013.6,691.2 1022.1,694.6 1030.6,697.9 1038.9,701.1 1047.2,704.3 1055.4,707.5 1063.6,710.6 1071.7,713.7 1079.7,716.7 1087.7,719.7 1095.6,722.7 1103.5,725.6 1111.3,728.5 1119.0,731.3 1126.7,734.1 1134.4,736.9 1141.9,739.7 1149.5,742.4 1157.0,745.1 1164.4,747.7 1171.8,750.3 1179.1,752.9 1186.4,755.5 1193.7,758.0 1200.9,760.5 1208.0,763.0 1215.1,765.5 1222.2,767.9 1229.2,770.3 1236.2,772.7 1243.1,775.0 1250.0,777.3 1256.9,779.6 1263.7,781.9 1270.5,784.2 1277.2,786.4 1283.9,788.6 1290.6,790.8 1297.2,793.0 1303.8,795.2 1310.4,797.3 1316.9,799.4 1323.4,801.5" stroke="#0000ff"/>
<polyline points="188.1,-117.5 207.7,-24.5 232.3,41.5 258.2,92.7 283.9,134.5 309.2,169.8 333.7,200.4 357.5,227.5 380.5,251.6 402.8,273.5 424.5,293.4 445.4,311.8 465.8,328.8 485.6,344.6 504.9,359.4 523.7,373.3 542.0,386.4 559.8,398.8 577.3,410.6 594.3,421.8 611.0,432.4 627.4,442.6 643.4,452.4 659.1,461.7 674.4,470.7 689.5,479.4 704.4,487.7 718.9,495.8 733.3,503.5 747.4,511.1 761.2,518.3 774.8,525.4 788.3,532.3 801.5,538.9 814.5,545.4 827.4,551.6 840.0,557.8 852.5,563.7 864.8,569.5 877.0,575.2 889.0,580.7 900.8,586.1 912.5,591.4 924.1,596.5 935.5,601.6 946.8,606.5 958.0,611.3 969.0,616.1 979.9,620.7 990.7,625.2 1001.4,629.7 1011.9,634.1 1022.4,638.3 1032.7,642.5 1043.0,646.7 1053.1,650.7 1063.1,654.7 1073.1,658.6 1082.9,662.5 1092.7,666.3 1102.4,670.0 1112.0,673.7 1121.4,677.3 1130.9,680.9 1140.2,684.4 1149.4,687.8 1158.6,691.2 1167.7,694.6 1176.7,697.9 1185.7,701.1 1194.6,704.3 1203.4,707.5 1212.1,710.6 1220.8,713.7 1229.4,716.7 1237.9,719.7 1246.4,722.7 1254.8,725.6 1263.2,728.5 1271.5,731.3 1279.7,734.1 1287.9,736.9 1296.0,739.7 1304.1,742.4 1312.1,745.1 1320.0,747.7 1327.9,750.3 1335.8,752.9 1343.6,755.5 1351.3,758.0 1359.0,760.5 1366.7,763.0 1374.3,765.5 1381.8,767.9 1389.3,770.3 1396.8,772.7 1404.2,775.0 1411.6,777.3 1418.9,779.6 1426.2,781.9 1433.4,784.2 1440.6,786.4 1447.8,788.6 1454.9,790.8 1462.0,793.0 1469.0,795.2 1476.0,797.3 1482.9,799.4 1489.9,801.5" stroke="#0000ff"/>
<polyline points="240.7,-117.5 266.8,-24.5 296.5,41.5 326.6,92.7 356.1,134.5 384.6,169.8 412.1,200.4 438.6,227.5 464.1,251.6 488.7,273.5 512.5,293.4 535.5,311.8 557.9,328.8 579.5,344.6 600.5,359.4 621.0,373.3 640.9,386.4 660.3,398.8 679.3,410.6 697.8,421.8 715.8,432.4 733.5,442.6 750.8,452.4 767.8,461.7 784.4,470.7 800.7,479.4 816.7,487.7 832.4,495.8 847.9,503.5 863.0,511.1 877.9,518.3 892.6,525.4 907.1,532.3 921.3,538.9 935.3,545.4 949.1,551.6 962.7,557.8 976.1,563.7 989.3,569.5 1002.3,575.2 1015.2,580.7 1027.9,586.1 1040.5,591.4 1052.8,596.5 1065.1,601.6 1077.2,606.5 1089.1,611.3 1100.9,616.1 1112.6,620.7 1124.2,625.2 1135.6,629.7 1146.9,634.1 1158.1,638.3 1169.1,642.5 1180.1,646.7 1190.9,650.7 1201.6,654.7 1212.3,658.6 1222.8,662.5 1233.2,666.3 1243.5,670.0 1253.8,673.7 1263.9,677.3 1274.0,680.9 1283.9,684.4 1293.8,687.8 1303.6,691.2 1313.3,694.6 1322.9,697.9 1332.5,701.1 1341.9,704.3 1351.3,707.5 1360.7,710.6 1369.9,713.7 1379.1,716.7 1388.2,719.7 1397.2,722.7 1406.2,725.6 1415.1,728.5 1423.9,731.3 1432.7,734.1 1441.4,736.9 1450.1,739.7 1458.6,742.4 1467.2,745.1 1475.6,747.7 1484.0,750.3 1492.4,752.9 1500.7,755.5 1508.9,758.0 1517.1,760.5 1525.3,763.0 1533.4,765.5 1541.4,767.9 1549.4,770.3 1557.3,772.7 1565.2,775.0 1573.1,777.3 1580.9,779.6 1588.6,781.9 1596.3,784.2 1604.0,786.4 1611.6,788.6 1619.1,790.8 1626.7,793.0 1634.1,795.2 1641.6,797.3 1649.0,799.4 1656.3,801.5" stroke="#0000ff"/>
<polyline points="293.3,-117.5 325.9,-24.5 360.7,41.5 395.1,92.7 428.2,134.5 460.0,169.8 490.4,200.4 519.6,227.5 547.6,251.6 574.6,273.5 600.6,293.4 625.6,311.8 649.9,328.8 673.4,344.6 696.2,359.4 718.3,373.3 739.8,386.4 760.8,398.8 781.2,410.6 801.2,421.8 820.7,432.4 839.7,442.6 858.3,452.4 876.5,461.7 894.4,470.7 911.9,479.4 929.1,487.7 945.9,495.8 962.4,503.5 978.7,511.1 994.7,518.3 1010.4,525.4 1025.8,532.3 1041.0,538.9 1056.0,545.4 1070.8,551.6 1085.3,557.8 1099.6,563.7 1113.8,569.5 1127.7,575.2 1141.4,580.7 1155.0,586.1 1168.4,591.4 1181.6,596.5 1194.6,601.6 1207.5,606.5 1220.3,611.3 1232.9,616.1 1245.3,620.7 1257.6,625.2 1269.8,629.7 1281.8,634.1 1293.7,638.3 1305.5,642.5 1317.2,646.7 1328.7,650.7 1340.1,654.7 1351.4,658.6 1362.6,662.5 1373.7,666.3 1384.7,670.0 1395.6,673.7 1406.4,677.3 1417.1,680.9 1427.7,684.4 1438.2,687.8 1448.6,691.2 1458.9,694.6 1469.1,697.9 1479.3,701.1 1489.3,704.3 1499.3,707.5 1509.2,710.6 1519.0,713.7 1528.8,716.7 1538.4,719.7 1548.0,722.7 1557.5,725.6 1567.0,728.5 1576.4,731.3 1585.7,734.1 1594.9,736.9 1604.1,739.7 1613.2,742.4 1622.3,745.1 1631.3,747.7 1640.2,750.3 1649.0,752.9 1657.8,755.5 1666.6,758.0 1675.3,760.5 1683.9,763.0 1692.5,765.5 1701.0,767.9 1709.5,770.3 1717.9,772.7 1726.3,775.0 1734.6,777.3 1742.8,779.6 1751.0,781.9 1759.2,784.2 1767.3,786.4 1775.4,788.6 1783.4,790.8 1791.4,793.0 1799.3,795.2 1807.2,797.3 1815.0,799.4 1822.8,801.5" stroke="#0000ff"/>
<polyline points="345.9,-117.5 385.0,-24.5 424.9,41.5 463.5,92.7 500.4,134.5 535.4,169.8 568.8,200.4 600.7,227.5 631.2,251.6 660.5,273.5 688.6,293.4 715.7,311.8 741.9,328.8 767.3,344.6 791.8,359.4 815.6,373.3 838.8,386.4 861.3,398.8 883.2,410.6 904.6,421.8 925.5,432.4 945.8,442.6 965.8,452.4 985.3,461.7 1004.4,470.7 1023.1,479.4 1041.4,487.7 1059.4,495.8 1077.0,503.5 1094.4,511.1 1111.4,518.3 1128.1,525.4 1144.6,532.3 1160.8,538.9 1176.8,545.4 1192.5,551.6 1207.9,557.8 1223.2,563.7 1238.2,569.5 1253.0,575.2 1267.7,580.7 1282.1,586.1 1296.3,591.4 1310.3,596.5 1324.2,601.6 1337.9,606.5 1351.4,611.3 1364.8,616.1 1378.0,620.7 1391.1,625.2 1404.0,629.7 1416.8,634.1 1429.4,638.3 1441.9,642.5 1454.3,646.7 1466.5,650.7 1478.6,654.7 1490.6,658.6 1502.5,662.5 1514.3,666.3 1525.9,670.0 1537.4,673.7 1548.9,677.3 1560.2,680.9 1571.4,684.4 1582.5,687.8 1593.5,691.2 1604.5,694.6 1615.3,697.9 1626.1,701.1 1636.7,704.3 1647.3,707.5 1657.7,710.6 1668.1,713.7 1678.5,716.7 1688.7,719.7 1698.8,722.7 1708.9,725.6 1718.9,728.5 1728.8,731.3 1738.7,734.1 1748.5,736.9 1758.2,739.7 1767.8,742.4 1777.4,745.1 1786.9,747.7 1796.3,750.3 1805.7,752.9 1815.0,755.5 1824.2,758.0 1833.4,760.5 1842.5,763.0 1851.6,765.5 1860.6,767.9 1869.6,770.3 1878.5,772.7 1887.3,775.0 1896.1,777.3 1904.8,779.6 1913.5,781.9 1922.1,784.2 1930.7,786.4 1939.2,788.6 1947.7,790.8 1956.1,793.0 1964.5,795.2 1972.8,797.3 1981.1,799.4 1989.3,801.5" stroke="#0000ff"/>
<polyline points="398.5,-117.5 444.1,-24.5 489.1,41.5 532.0,92.7 572.5,134.5 610.8,169.8 647.2,200.4 681.8,227.5 714.8,251.6 746.3,273.5 776.7,293.4 805.8,311.8 834.0,328.8 861.2,344.6 887.5,359.4 913.0,373.3 937.7,386.4 961.8,398.8 985.2,410.6 1008.0,421.8 1030.3,432.4 1052.0,442.6 1073.2,452.4 1094.0,461.7 1114.3,470.7 1134.2,479.4 1153.7,487.7 1172.8,495.8 1191.6,503.5 1210.0,511.1 1228.1,518.3 1245.9,525.4 1263.4,532.3 1280.6,538.9 1297.5,545.4 1314.2,551.6 1330.6,557.8 1346.8,563.7 1362.7,569.5 1378.4,575.2 1393.9,580.7 1409.1,586.1 1424.2,591.4 1439.1,596.5 1453.8,601.6 1468.3,606.5 1482.6,611.3 1496.8,616.1 1510.7,620.7 1524.6,625.2 1538.2,629.7 1551.7,634.1 1565.1,638.3 1578.3,642.5 1591.4,646.7 1604.3,650.7 1617.1,654.7 1629.8,658.6 1642.3,662.5 1654.8,666.3 1667.1,670.0 1679.3,673.7 1691.3,677.3 1703.3,680.9 1715.1,684.4 1726.9,687.8 1738.5,691.2 1750.1,694.6 1761.5,697.9 1772.8,701.1 1784.1,704.3 1795.2,707.5 1806.3,710.6 1817.3,713.7 1828.1,716.7 1838.9,719.7 1849.6,722.7 1860.3,725.6 1870.8,728.5 1881.3,731.3 1891.7,734.1 1902.0,736.9 1912.2,739.7 1922.4,742.4 1932.5,745.1 1942.5,747.7 1952.4,750.3 1962.3,752.9 1972.1,755.5 1981.9,758.0 1991.6,760.5 2001.2,763.0 2010.7,765.5 2020.2,767.9 2029.6,770.3 2039.0,772.7 2048.3,775.0 2057.6,777.3 2066.8,779.6 2075.9,781.9 2085.0,784.2 2094.0,786.4 2103.0,788.6 2111.9,790.8 2120.8,793.0 2129.6,795.2 2138.4,797.3 2147.1,799.4 2155.8,801.5" stroke="#0000ff"/>
<polyline points="451.1,-117.5 503.2,-24.5 553.4,41.5 600.5,92.7 644.7,134.5 686.2,169.8 725.5,200.4 762.8,227.5 798.3,251.6 832.2,273.5 864.7,293.4 895.9,311.8 926.0,328.8 955.0,344.6 983.1,359.4 1010.3,373.3 1036.7,386.4 1062.3,398.8 1087.2,410.6 1111.4,421.8 1135.1,432.4 1158.2,442.6 1180.7,452.4 1202.7,461.7 1224.3,470.7 1245.4,479.4 1266.1,487.7 1286.3,495.8 1306.2,503.5 1325.7,511.1 1344.9,518.3 1363.7,525.4 1382.2,532.3 1400.4,538.9 1418.3,545.4 1435.9,551.6 1453.2,557.8 1470.3,563.7 1487.2,569.5 1503.7,575.2 1520.1,580.7 1536.2,586.1 1552.1,591.4 1567.8,596.5 1583.3,601.6 1598.7,606.5 1613.8,611.3 1628.7,616.1 1643.4,620.7 1658.0,625.2 1672.4,629.7 1686.7,634.1 1700.8,638.3 1714.7,642.5 1728.5,646.7 1742.1,650.7 1755.6,654.7 1769.0,658.6 1782.2,662.5 1795.3,666.3 1808.3,670.0 1821.1,673.7 1833.8,677.3 1846.4,680.9 1858.9,684.4 1871.2,687.8 1883.5,691.2 1895.6,694.6 1907.7,697.9 1919.6,701.1 1931.5,704.3 1943.2,707.5 1954.8,710.6 1966.4,713.7 1977.8,716.7 1989.2,719.7 2000.4,722.7 2011.6,725.6 2022.7,728.5 2033.7,731.3 2044.7,734.1 2055.5,736.9 2066.3,739.7 2077.0,742.4 2087.6,745.1 2098.1,747.7 2108.6,750.3 2119.0,752.9 2129.3,755.5 2139.5,758.0 2149.7,760.5 2159.8,763.0 2169.8,765.5 2179.8,767.9 2189.7,770.3 2199.6,772.7 2209.4,775.0 2219.1,777.3 2228.7,779.6 2238.3,781.9 2247.9,784.2 2257.4,786.4 2266.8,788.6 2276.2,790.8 2285.5,793.0 2294.8,795.2 2304.0,797.3 2313.1,799.4 2322.2,801.5" stroke="#0000ff"/>
<polyline points="503.7,-117.5 562.3,-24.5 617.6,41.5 668.9,92.7 716.8,134.5 761.7,169.8 803.9,200.4 843.9,227.5 881.9,251.6 918.1,273.5 952.8,293.4 986.0,311.8 1018.1,328.8 1048.9,344.6 1078.7,359.4 1107.6,373.3 1135.6,386.4 1162.8,398.8 1189.2,410.6 1214.9,421.8 1239.9,432.4 1264.3,442.6 1288.2,452.4 1311.5,461.7 1334.3,470.7 1356.6,479.4 1378.4,487.7 1399.8,495.8 1420.8,503.5 1441.4,511.1 1461.6,518.3 1481.5,525.4 1501.0,532.3 1520.2,538.9 1539.0,545.4 1557.6,551.6 1575.9,557.8 1593.9,563.7 1611.6,569.5 1629.1,575.2 1646.3,580.7 1663.3,586.1 1680.1,591.4 1696.6,596.5 1712.9,601.6 1729.0,606.5 1744.9,611.3 1760.6,616.1 1776.2,620.7 1791.5,625.2 1806.7,629.7 1821.6,634.1 1836.4,638.3 1851.1,642.5 1865.6,646.7 1879.9,650.7 1894.1,654.7 1908.2,658.6 1922.0,662.5 1935.8,666.3 1949.4,670.0 1962.9,673.7 1976.3,677.3 1989.5,680.9 2002.6,684.4 2015.6,687.8 2028.5,691.2 2041.2,694.6 2053.9,697.9 2066.4,701.1 2078.8,704.3 2091.2,707.5 2103.4,710.6 2115.5,713.7 2127.5,716.7 2139.4,719.7 2151.3,722.7 2163.0,725.6 2174.6,728.5 2186.2,731.3 2197.7,734.1 2209.0,736.9 2220.3,739.7 2231.5,742.4 2242.7,745.1 2253.7,747.7 2264.7,750.3 2275.6,752.9 2286.4,755.5 2297.2,758.0 2307.8,760.5 2318.4,763.0 2329.0,765.5 2339.4,767.9 2349.8,770.3 2360.1,772.7 2370.4,775.0 2380.6,777.3 2390.7,779.6 2400.8,781.9 2410.8,784.2 2420.7,786.4 2430.6,788.6 2440.4,790.8 2450.2,793.0 2459.9,795.2 2469.6,797.3 2479.2,799.4 2488.7,801.5" stroke="#0000ff"/>
<polyline points="556.3,-117.5 621.4,-24.5 681.8,41.5 737.4,92.7 789.0,134.5 837.1,169.8 882.3,200.4 924.9,227.5 965.4,251.6 1004.0,273.5 1040.8,293.4 1076.1,311.8 1110.1,328.8 1142.8,344.6 1174.4,359.4 1204.9,373.3 1234.5,386.4 1263.2,398.8 1291.1,410.6 1318.3,421.8 1344.7,432.4 1370.5,442.6 1395.6,452.4 1420.2,461.7 1444.2,470.7 1467.7,479.4 1490.7,487.7 1513.3,495.8 1535.4,503.5 1557.1,511.1 1578.3,518.3 1599.2,525.4 1619.8,532.3 1639.9,538.9 1659.8,545.4 1679.3,551.6 1698.5,557.8 1717.4,563.7 1736.1,569.5 1754.4,575.2 1772.5,580.7 1790.4,586.1 1808.0,591.4 1825.3,596.5 1842.5,601.6 1859.4,606.5 1876.1,611.3 1892.6,616.1 1908.9,620.7 1925.0,625.2 1940.9,629.7 1956.6,634.1 1972.1,638.3 1987.5,642.5 2002.7,646.7 2017.7,650.7 2032.6,654.7 2047.3,658.6 2061.9,662.5 2076.3,666.3 2090.6,670.0 2104.7,673.7 2118.7,677.3 2132.6,680.9 2146.4,684.4 2160.0,687.8 2173.5,691.2 2186.8,694.6 2200.1,697.9 2213.2,701.1 2226.2,704.3 2239.1,707.5 2251.9,710.6 2264.6,713.7 2277.2,716.7 2289.7,719.7 2302.1,722.7 2314.4,725.6 2326.5,728.5 2338.6,731.3 2350.6,734.1 2362.6,736.9 2374.4,739.7 2386.1,742.4 2397.8,745.1 2409.3,747.7 2420.8,750.3 2432.2,752.9 2443.5,755.5 2454.8,758.0 2466.0,760.5 2477.1,763.0 2488.1,765.5 2499.0,767.9 2509.9,770.3 2520.7,772.7 2531.4,775.0 2542.1,777.3 2552.7,779.6 2563.2,781.9 2573.7,784.2 2584.1,786.4 2594.4,788.6 2604.7,790.8 2614.9,793.0 2625.1,795.2 2635.2,797.3 2645.2,799.4 2655.2,801.5" stroke="#0000ff"/>
<polyline points="608.9,-117.5 680.5,-24.5 746.0,41.5 805.8,92.7 861.1,134.5 912.5,169.8 960.6,200.4 1006.0,227.5 1049.0,251.6 1089.8,273.5 1128.9,293.4 1166.2,311.8 1202.1,328.8 1236.7,344.6 1270.0,359.4 1302.3,373.3 1333.5,386.4 1363.7,398.8 1393.1,410.6 1421.7,421.8 1449.5,432.4 1476.6,442.6 1503.1,452.4 1528.9,461.7 1554.2,470.7 1578.9,479.4 1603.1,487.7 1626.7,495.8 1650.0,503.5 1672.7,511.1 1695.1,518.3 1717.0,525.4 1738.5,532.3 1759.7,538.9 1780.5,545.4 1801.0,551.6 1821.2,557.8 1841.0,563.7 1860.5,569.5 1879.8,575.2 1898.8,580.7 1917.5,586.1 1935.9,591.4 1954.1,596.5 1972.0,601.6 1989.8,606.5 2007.3,611.3 2024.5,616.1 2041.6,620.7 2058.4,625.2 2075.1,629.7 2091.5,634.1 2107.8,638.3 2123.9,642.5 2139.8,646.7 2155.5,650.7 2171.1,654.7 2186.5,658.6 2201.8,662.5 2216.8,666.3 2231.8,670.0 2246.6,673.7 2261.2,677.3 2275.7,680.9 2290.1,684.4 2304.3,687.8 2318.4,691.2 2332.4,694.6 2346.3,697.9 2360.0,701.1 2373.6,704.3 2387.1,707.5 2400.5,710.6 2413.7,713.7 2426.9,716.7 2439.9,719.7 2452.9,722.7 2465.7,725.6 2478.5,728.5 2491.1,731.3 2503.6,734.1 2516.1,736.9 2528.4,739.7 2540.7,742.4 2552.9,745.1 2565.0,747.7 2577.0,750.3 2588.9,752.9 2600.7,755.5 2612.4,758.0 2624.1,760.5 2635.7,763.0 2647.2,765.5 2658.6,767.9 2670.0,770.3 2681.3,772.7 2692.5,775.0 2703.6,777.3 2714.7,779.6 2725.7,781.9 2736.6,784.2 2747.4,786.4 2758.2,788.6 2769.0,790.8 2779.6,793.0 2790.2,795.2 2800.8,797.3 2811.2,799.4 2821.6,801.5" stroke="#0000ff"/>
<polyline points="661.5,-117.5 739.6,-24.5 810.2,41.5 874.3,92.7 933.2,134.5 987.9,169.8 1039.0,200.4 1087.1,227.5 1132.5,251.6 1175.7,273.5 1216.9,293.4 1256.3,311.8 1294.2,328.8 1330.6,344.6 1365.7,359.4 1399.6,373.3 1432.4,386.4 1464.2,398.8 1495.1,410.6 1525.1,421.8 1554.3,432.4 1582.8,442.6 1610.6,452.4 1637.7,461.7 1664.2,470.7 1690.1,479.4 1715.4,487.7 1740.2,495.8 1764.5,503.5 1788.4,511.1 1811.8,518.3 1834.8,525.4 1857.3,532.3 1879.5,538.9 1901.3,545.4 1922.7,551.6 1943.8,557.8 1964.6,563.7 1985.0,569.5 2005.1,575.2 2025.0,580.7 2044.5,586.1 2063.8,591.4 2082.9,596.5 2101.6,601.6 2120.1,606.5 2138.4,611.3 2156.5,616.1 2174.3,620.7 2191.9,625.2 2209.3,629.7 2226.5,634.1 2243.5,638.3 2260.3,642.5 2276.9,646.7 2293.3,650.7 2309.6,654.7 2325.7,658.6 2341.6,662.5 2357.4,666.3 2373.0,670.0 2388.4,673.7 2403.7,677.3 2418.8,680.9 2433.8,684.4 2448.7,687.8 2463.4,691.2 2478.0,694.6 2492.4,697.9 2506.8,701.1 2521.0,704.3 2535.0,707.5 2549.0,710.6 2562.8,713.7 2576.6,716.7 2590.2,719.7 2603.7,722.7 2617.1,725.6 2630.4,728.5 2643.5,731.3 2656.6,734.1 2669.6,736.9 2682.5,739.7 2695.3,742.4 2708.0,745.1 2720.6,747.7 2733.1,750.3 2745.5,752.9 2757.8,755.5 2770.1,758.0 2782.2,760.5 2794.3,763.0 2806.3,765.5 2818.2,767.9 2830.1,770.3 2841.8,772.7 2853.5,775.0 2865.1,777.3 2876.6,779.6 2888.1,781.9 2899.5,784.2 2910.8,786.4 2922.0,788.6 2933.2,790.8 2944.3,793.0 2955.4,795.2 2966.4,797.3 2977.3,799.4 2988.1,801.5" stroke="#0000ff"/>
<polyline points="714.1,-117.5 798.8,-24.5 874.4,41.5 942.8,92.7 1005.4,134.5 1063.3,169.8 1117.4,200.4 1168.1,227.5 1216.1,251.6 1261.6,273.5 1305.0,293.4 1346.4,311.8 1386.2,328.8 1424.5,344.6 1461.3,359.4 1496.9,373.3 1531.3,386.4 1564.7,398.8 1597.1,410.6 1628.5,421.8 1659.1,432.4 1689.0,442.6 1718.0,452.4 1746.4,461.7 1774.1,470.7 1801.2,479.4 1827.7,487.7 1853.7,495.8 1879.1,503.5 1904.1,511.1 1928.5,518.3 1952.5,525.4 1976.1,532.3 1999.3,538.9 2022.0,545.4 2044.4,551.6 2066.5,557.8 2088.1,563.7 2109.5,569.5 2130.5,575.2 2151.2,580.7 2171.6,586.1 2191.8,591.4 2211.6,596.5 2231.2,601.6 2250.5,606.5 2269.6,611.3 2288.4,616.1 2307.0,620.7 2325.4,625.2 2343.5,629.7 2361.4,634.1 2379.2,638.3 2396.7,642.5 2414.0,646.7 2431.1,650.7 2448.1,654.7 2464.9,658.6 2481.5,662.5 2497.9,666.3 2514.1,670.0 2530.2,673.7 2546.2,677.3 2561.9,680.9 2577.6,684.4 2593.0,687.8 2608.4,691.2 2623.6,694.6 2638.6,697.9 2653.6,701.1 2668.3,704.3 2683.0,707.5 2697.5,710.6 2712.0,713.7 2726.3,716.7 2740.4,719.7 2754.5,722.7 2768.4,725.6 2782.3,728.5 2796.0,731.3 2809.6,734.1 2823.1,736.9 2836.5,739.7 2849.9,742.4 2863.1,745.1 2876.2,747.7 2889.2,750.3 2902.1,752.9 2915.0,755.5 2927.7,758.0 2940.4,760.5 2952.9,763.0 2965.4,765.5 2977.8,767.9 2990.1,770.3 3002.4,772.7 3014.5,775.0 3026.6,777.3 3038.6,779.6 3050.5,781.9 3062.4,784.2 3074.2,786.4 3085.9,788.6 3097.5,790.8 3109.0,793.0 3120.5,795.2 3132.0,797.3 3143.3,799.4 3154.6,801.5" stroke="#0000ff"/>
<polyline points="766.8,-117.5 857.9,-24.5 938.6,41.5 1011.2,92.7 1077.5,134.5 1138.7,169.8 1195.7,200.4 1249.2,227.5 1299.6,251.6 1347.5,273.5 1393.0,293.4 1436.5,311.8 1478.3,328.8 1518.3,344.6 1557.0,359.4 1594.2,373.3 1630.3,386.4 1665.2,398.8 1699.1,410.6 1732.0,421.8 1764.0,432.4 1795.1,442.6 1825.5,452.4 1855.1,461.7 1884.1,470.7 1912.4,479.4 1940.1,487.7 1967.2,495.8 1993.7,503.5 2019.7,511.1 2045.3,518.3 2070.3,525.4 2094.9,532.3 2119.0,538.9 2142.8,545.4 2166.1,551.6 2189.1,557.8 2211.7,563.7 2233.9,569.5 2255.9,575.2 2277.4,580.7 2298.7,586.1 2319.7,591.4 2340.4,596.5 2360.8,601.6 2380.9,606.5 2400.7,611.3 2420.4,616.1 2439.7,620.7 2458.8,625.2 2477.7,629.7 2496.4,634.1 2514.8,638.3 2533.1,642.5 2551.1,646.7 2569.0,650.7 2586.6,654.7 2604.0,658.6 2621.3,662.5 2638.4,666.3 2655.3,670.0 2672.1,673.7 2688.6,677.3 2705.0,680.9 2721.3,684.4 2737.4,687.8 2753.4,691.2 2769.2,694.6 2784.8,697.9 2800.3,701.1 2815.7,704.3 2831.0,707.5 2846.1,710.6 2861.1,713.7 2875.9,716.7 2890.7,719.7 2905.3,722.7 2919.8,725.6 2934.2,728.5 2948.5,731.3 2962.6,734.1 2976.7,736.9 2990.6,739.7 3004.4,742.4 3018.2,745.1 3031.8,747.7 3045.3,750.3 3058.8,752.9 3072.1,755.5 3085.4,758.0 3098.5,760.5 3111.6,763.0 3124.5,765.5 3137.4,767.9 3150.2,770.3 3162.9,772.7 3175.6,775.0 3188.1,777.3 3200.6,779.6 3213.0,781.9 3225.3,784.2 3237.5,786.4 3249.7,788.6 3261.7,790.8 3273.8,793.0 3285.7,795.2 3297.6,797.3 3309.3,799.4 3321.1,801.5" stroke="#0000ff"/>
<polyline points="819.4,-117.5 917.0,-24.5 1002.8,41.5 1079.7,92.7 1149.7,134.5 1214.1,169.8 1274.1,200.4 1330.3,227.5 1383.2,251.6 1433.4,273.5 1481.1,293.4 1526.6,311.8 1570.3,328.8 1612.2,344.6 1652.6,359.4 1691.6,373.3 1729.2,386.4 1765.7,398.8 1801.0,410.6 1835.4,421.8 1868.8,432.4 1901.3,442.6 1933.0,452.4 1963.9,461.7 1994.1,470.7 2023.6,479.4 2052.4,487.7 2080.6,495.8 2108.3,503.5 2135.4,511.1 2162.0,518.3 2188.1,525.4 2213.7,532.3 2238.8,538.9 2263.5,545.4 2287.8,551.6 2311.7,557.8 2335.3,563.7 2358.4,569.5 2381.2,575.2 2403.7,580.7 2425.8,586.1 2447.6,591.4 2469.1,596.5 2490.3,601.6 2511.2,606.5 2531.9,611.3 2552.3,616.1 2572.4,620.7 2592.3,625.2 2611.9,629.7 2631.3,634.1 2650.5,638.3 2669.5,642.5 2688.2,646.7 2706.8,650.7 2725.1,654.7 2743.2,658.6 2761.2,662.5 2778.9,666.3 2796.5,670.0 2813.9,673.7 2831.1,677.3 2848.1,680.9 2865.0,684.4 2881.8,687.8 2898.3,691.2 2914.7,694.6 2931.0,697.9 2947.1,701.1 2963.1,704.3 2978.9,707.5 2994.6,710.6 3010.2,713.7 3025.6,716.7 3040.9,719.7 3056.1,722.7 3071.2,725.6 3086.1,728.5 3100.9,731.3 3115.6,734.1 3130.2,736.9 3144.7,739.7 3159.0,742.4 3173.3,745.1 3187.4,747.7 3201.5,750.3 3215.4,752.9 3229.3,755.5 3243.0,758.0 3256.6,760.5 3270.2,763.0 3283.7,765.5 3297.0,767.9 3310.3,770.3 3323.5,772.7 3336.6,775.0 3349.6,777.3 3362.6,779.6 3375.4,781.9 3388.2,784.2 3400.9,786.4 3413.5,788.6 3426.0,790.8 3438.5,793.0 3450.8,795.2 3463.1,797.3 3475.4,799.4 3487.5,801.5" stroke="#0000ff"/>
<polyline points="872.0,-117.5 976.1,-24.5 1067.0,41.5 1148.1,92.7 1221.8,134.5 1289.5,169.8 1352.4,200.4 1411.3,227.5 1466.7,251.6 1519.2,273.5 1569.1,293.4 1616.8,311.8 1662.3,328.8 1706.1,344.6 1748.2,359.4 1788.9,373.3 1828.1,386.4 1866.2,398.8 1903.0,410.6 1938.8,421.8 1973.6,432.4 2007.4,442.6 2040.4,452.4 2072.6,461.7 2104.0,470.7 2134.7,479.4 2164.7,487.7 2194.1,495.8 2222.9,503.5 2251.1,511.1 2278.7,518.3 2305.8,525.4 2332.5,532.3 2358.6,538.9 2384.3,545.4 2409.5,551.6 2434.4,557.8 2458.8,563.7 2482.9,569.5 2506.6,575.2 2529.9,580.7 2552.9,586.1 2575.5,591.4 2597.9,596.5 2619.9,601.6 2641.6,606.5 2663.1,611.3 2684.2,616.1 2705.1,620.7 2725.8,625.2 2746.2,629.7 2766.3,634.1 2786.2,638.3 2805.9,642.5 2825.3,646.7 2844.6,650.7 2863.6,654.7 2882.4,658.6 2901.0,662.5 2919.4,666.3 2937.7,670.0 2955.7,673.7 2973.6,677.3 2991.3,680.9 3008.8,684.4 3026.1,687.8 3043.3,691.2 3060.3,694.6 3077.2,697.9 3093.9,701.1 3110.5,704.3 3126.9,707.5 3143.2,710.6 3159.3,713.7 3175.3,716.7 3191.2,719.7 3206.9,722.7 3222.5,725.6 3238.0,728.5 3253.4,731.3 3268.6,734.1 3283.7,736.9 3298.7,739.7 3313.6,742.4 3328.4,745.1 3343.0,747.7 3357.6,750.3 3372.0,752.9 3386.4,755.5 3400.6,758.0 3414.8,760.5 3428.8,763.0 3442.8,765.5 3456.6,767.9 3470.4,770.3 3484.1,772.7 3497.6,775.0 3511.1,777.3 3524.5,779.6 3537.8,781.9 3551.1,784.2 3564.2,786.4 3577.3,788.6 3590.3,790.8 3603.2,793.0 3616.0,795.2 3628.7,797.3 3641.4,799.4 3654.0,801.5" stroke="#0000ff"/>
<polyline points="924.6,-117.5 1035.2,-24.5 1131.2,41.5 1216.6,92.7 1294.0,134.5 1365.0,169.8 1430.8,200.4 1492.4,227.5 1550.3,251.6 1605.1,273.5 1657.2,293.4 1706.9,311.8 1754.4,328.8 1800.0,344.6 1843.9,359.4 1886.2,373.3 1927.1,386.4 1966.6,398.8 2005.0,410.6 2042.2,421.8 2078.4,432.4 2113.6,442.6 2147.9,452.4 2181.3,461.7 2214.0,470.7 2245.9,479.4 2277.1,487.7 2307.6,495.8 2337.5,503.5 2366.7,511.1 2395.5,518.3 2423.6,525.4 2451.2,532.3 2478.4,538.9 2505.0,545.4 2531.3,551.6 2557.0,557.8 2582.4,563.7 2607.3,569.5 2631.9,575.2 2656.1,580.7 2679.9,586.1 2703.4,591.4 2726.6,596.5 2749.5,601.6 2772.0,606.5 2794.2,611.3 2816.2,616.1 2837.8,620.7 2859.2,625.2 2880.4,629.7 2901.3,634.1 2921.9,638.3 2942.3,642.5 2962.4,646.7 2982.4,650.7 3002.1,654.7 3021.6,658.6 3040.9,662.5 3060.0,666.3 3078.8,670.0 3097.5,673.7 3116.0,677.3 3134.4,680.9 3152.5,684.4 3170.5,687.8 3188.3,691.2 3205.9,694.6 3223.4,697.9 3240.7,701.1 3257.9,704.3 3274.9,707.5 3291.7,710.6 3308.4,713.7 3325.0,716.7 3341.4,719.7 3357.7,722.7 3373.9,725.6 3389.9,728.5 3405.8,731.3 3421.6,734.1 3437.2,736.9 3452.8,739.7 3468.2,742.4 3483.5,745.1 3498.7,747.7 3513.7,750.3 3528.7,752.9 3543.5,755.5 3558.3,758.0 3572.9,760.5 3587.5,763.0 3601.9,765.5 3616.2,767.9 3630.5,770.3 3644.6,772.7 3658.7,775.0 3672.6,777.3 3686.5,779.6 3700.3,781.9 3714.0,784.2 3727.6,786.4 3741.1,788.6 3754.5,790.8 3767.9,793.0 3781.2,795.2 3794.3,797.3 3807.5,799.4 3820.5,801.5" stroke="#0000ff"/>
<polyline points="977.2,-117.5 1094.3,-24.5 1195.4,41.5 1285.1,92.7 1366.1,134.5 1440.4,169.8 1509.2,200.4 1573.4,227.5 1633.9,251.6 1691.0,273.5 1745.2,293.4 1797.0,311.8 1846.4,328.8 1893.9,344.6 1939.5,359.4 1983.5,373.3 2026.0,386.4 2067.1,398.8 2107.0,410.6 2145.6,421.8 2183.2,432.4 2219.8,442.6 2255.4,452.4 2290.1,461.7 2324.0,470.7 2357.1,479.4 2389.4,487.7 2421.1,495.8 2452.1,503.5 2482.4,511.1 2512.2,518.3 2541.4,525.4 2570.0,532.3 2598.2,538.9 2625.8,545.4 2653.0,551.6 2679.7,557.8 2705.9,563.7 2731.8,569.5 2757.3,575.2 2782.3,580.7 2807.0,586.1 2831.4,591.4 2855.4,596.5 2879.0,601.6 2902.4,606.5 2925.4,611.3 2948.1,616.1 2970.6,620.7 2992.7,625.2 3014.6,629.7 3036.2,634.1 3057.6,638.3 3078.7,642.5 3099.5,646.7 3120.2,650.7 3140.6,654.7 3160.8,658.6 3180.7,662.5 3200.5,666.3 3220.0,670.0 3239.4,673.7 3258.5,677.3 3277.5,680.9 3296.2,684.4 3314.8,687.8 3333.3,691.2 3351.5,694.6 3369.6,697.9 3387.5,701.1 3405.2,704.3 3422.8,707.5 3440.3,710.6 3457.5,713.7 3474.7,716.7 3491.7,719.7 3508.5,722.7 3525.2,725.6 3541.8,728.5 3558.3,731.3 3574.6,734.1 3590.8,736.9 3606.8,739.7 3622.8,742.4 3638.6,745.1 3654.3,747.7 3669.9,750.3 3685.3,752.9 3700.7,755.5 3715.9,758.0 3731.1,760.5 3746.1,763.0 3761.0,765.5 3775.8,767.9 3790.6,770.3 3805.2,772.7 3819.7,775.0 3834.1,777.3 3848.5,779.6 3862.7,781.9 3876.9,784.2 3890.9,786.4 3904.9,788.6 3918.8,790.8 3932.6,793.0 3946.3,795.2 3959.9,797.3 3973.5,799.4 3987.0,801.5" stroke="#0000ff"/>
<polyline points="1029.8,-117.5 1153.4,-24.5 1259.6,41.5 1353.5,92.7 1438.2,134.5 1515.8,169.8 1587.5,200.4 1654.5,227.5 1717.4,251.6 1776.9,273.5 1833.3,293.4 1887.1,311.8 1938.5,328.8 1987.8,344.6 2035.2,359.4 2080.8,373.3 2125.0,386.4 2167.6,398.8 2208.9,410.6 2249.1,421.8 2288.0,432.4 2325.9,442.6 2362.8,452.4 2398.8,461.7 2433.9,470.7 2468.2,479.4 2501.8,487.7 2534.5,495.8 2566.6,503.5 2598.1,511.1 2628.9,518.3 2659.1,525.4 2688.8,532.3 2717.9,538.9 2746.5,545.4 2774.7,551.6 2802.3,557.8 2829.5,563.7 2856.3,569.5 2882.6,575.2 2908.6,580.7 2934.1,586.1 2959.3,591.4 2984.1,596.5 3008.6,601.6 3032.7,606.5 3056.6,611.3 3080.1,616.1 3103.3,620.7 3126.2,625.2 3148.8,629.7 3171.2,634.1 3193.2,638.3 3215.1,642.5 3236.6,646.7 3258.0,650.7 3279.1,654.7 3299.9,658.6 3320.6,662.5 3341.0,666.3 3361.2,670.0 3381.2,673.7 3401.0,677.3 3420.6,680.9 3440.0,684.4 3459.2,687.8 3478.2,691.2 3497.1,694.6 3515.8,697.9 3534.3,701.1 3552.6,704.3 3570.8,707.5 3588.8,710.6 3606.7,713.7 3624.4,716.7 3641.9,719.7 3659.3,722.7 3676.6,725.6 3693.7,728.5 3710.7,731.3 3727.6,734.1 3744.3,736.9 3760.9,739.7 3777.3,742.4 3793.7,745.1 3809.9,747.7 3826.0,750.3 3842.0,752.9 3857.8,755.5 3873.6,758.0 3889.2,760.5 3904.7,763.0 3920.1,765.5 3935.4,767.9 3950.6,770.3 3965.7,772.7 3980.7,775.0 3995.6,777.3 4010.5,779.6 4025.2,781.9 4039.8,784.2 4054.3,786.4 4068.7,788.6 4083.1,790.8 4097.3,793.0 4111.5,795.2 4125.5,797.3 4139.5,799.4 4153.4,801.5" stroke="#0000ff"/>
<polyline points="1082.4,-117.5 1212.5,-24.5 1323.8,41.5 1422.0,92.7 1510.4,134.5 1591.2,169.8 1665.9,200.4 1735.6,227.5 1801.0,251.6 1862.7,273.5 1921.3,293.4 1977.2,311.8 2030.5,328.8 2081.7,344.6 2130.8,359.4 2178.2,373.3 2223.9,386.4 2268.1,398.8 2310.9,410.6 2352.5,421.8 2392.8,432.4 2432.1,442.6 2470.3,452.4 2507.6,461.7 2543.9,470.7 2579.4,479.4 2614.1,487.7 2648.0,495.8 2681.2,503.5 2713.8,511.1 2745.6,518.3 2776.9,525.4 2807.6,532.3 2837.7,538.9 2867.3,545.4 2896.4,551.6 2925.0,557.8 2953.1,563.7 2980.7,569.5 3008.0,575.2 3034.8,580.7 3061.2,586.1 3087.2,591.4 3112.9,596.5 3138.2,601.6 3163.1,606.5 3187.7,611.3 3212.0,616.1 3236.0,620.7 3259.6,625.2 3283.0,629.7 3306.1,634.1 3328.9,638.3 3351.5,642.5 3373.8,646.7 3395.8,650.7 3417.6,654.7 3439.1,658.6 3460.4,662.5 3481.5,666.3 3502.4,670.0 3523.0,673.7 3543.5,677.3 3563.7,680.9 3583.7,684.4 3603.6,687.8 3623.2,691.2 3642.7,694.6 3662.0,697.9 3681.1,701.1 3700.0,704.3 3718.7,707.5 3737.3,710.6 3755.8,713.7 3774.1,716.7 3792.2,719.7 3810.1,722.7 3828.0,725.6 3845.6,728.5 3863.2,731.3 3880.6,734.1 3897.8,736.9 3914.9,739.7 3931.9,742.4 3948.8,745.1 3965.5,747.7 3982.1,750.3 3998.6,752.9 4015.0,755.5 4031.2,758.0 4047.3,760.5 4063.3,763.0 4079.3,765.5 4095.0,767.9 4110.7,770.3 4126.3,772.7 4141.8,775.0 4157.2,777.3 4172.4,779.6 4187.6,781.9 4202.7,784.2 4217.6,786.4 4232.5,788.6 4247.3,790.8 4262.0,793.0 4276.6,795.2 4291.1,797.3 4305.6,799.4 4319.9,801.5" stroke="#0000ff"/>
<polyline points="1135.0,-117.5 1271.6,-24.5 1388.0,41.5 1490.4,92.7 1582.5,134.5 1666.6,169.8 1744.3,200.4 1816.6,227.5 1884.5,251.6 1948.6,273.5 2009.4,293.4 2067.3,311.8 2122.5,328.8 2175.5,344.6 2226.5,359.4 2275.5,373.3 2322.8,386.4 2368.6,398.8 2412.9,410.6 2455.9,421.8 2497.6,432.4 2538.2,442.6 2577.8,452.4 2616.3,461.7 2653.9,470.7 2690.6,479.4 2726.4,487.7 2761.5,495.8 2795.8,503.5 2829.4,511.1 2862.4,518.3 2894.7,525.4 2926.4,532.3 2957.5,538.9 2988.1,545.4 3018.1,551.6 3047.6,557.8 3076.6,563.7 3105.2,569.5 3133.3,575.2 3161.0,580.7 3188.3,586.1 3215.1,591.4 3241.6,596.5 3267.7,601.6 3293.5,606.5 3318.9,611.3 3343.9,616.1 3368.7,620.7 3393.1,625.2 3417.2,629.7 3441.1,634.1 3464.6,638.3 3487.9,642.5 3510.9,646.7 3533.6,650.7 3556.1,654.7 3578.3,658.6 3600.3,662.5 3622.0,666.3 3643.5,670.0 3664.8,673.7 3685.9,677.3 3706.8,680.9 3727.5,684.4 3747.9,687.8 3768.2,691.2 3788.3,694.6 3808.1,697.9 3827.8,701.1 3847.4,704.3 3866.7,707.5 3885.9,710.6 3904.9,713.7 3923.7,716.7 3942.4,719.7 3961.0,722.7 3979.3,725.6 3997.5,728.5 4015.6,731.3 4033.6,734.1 4051.3,736.9 4069.0,739.7 4086.5,742.4 4103.9,745.1 4121.1,747.7 4138.2,750.3 4155.2,752.9 4172.1,755.5 4188.8,758.0 4205.5,760.5 4222.0,763.0 4238.4,765.5 4254.6,767.9 4270.8,770.3 4286.9,772.7 4302.8,775.0 4318.7,777.3 4334.4,779.6 4350.0,781.9 4365.6,784.2 4381.0,786.4 4396.3,788.6 4411.6,790.8 4426.7,793.0 4441.8,795.2 4456.7,797.3 4471.6,799.4 4486.4,801.5" stroke="#0000ff"/>
<polyline points="45.7,-117.5 -80.1,-24.5 -169.3,41.5 -238.5,92.7 -292.2,134.5 -293.1,169.8 -292.2,200.4 -290.0,227.5 -287.0,251.6 -283.2,273.5 -279.0,293.4 -274.5,311.8 -269.6,328.8 -264.6,344.6 -259.4,359.4 -254.1,373.3 -248.7,386.4 -243.2,398.8 -237.7,410.6 -232.2,421.8 -226.7,432.4 -221.2,442.6 -215.6,452.4 -210.1,461.7 -204.6,470.7 -199.1,479.4 -193.6,487.7 -188.2,495.8 -182.7,503.5 -177.4,511.1 -172.0,518.3 -166.7,525.4 -161.4,532.3 -156.1,538.9 -150.9,545.4 -145.7,551.6 -140.5,557.8 -135.4,563.7 -130.3,569.5 -125.3,575.2 -120.3,580.7 -115.3,586.1 -110.3,591.4 -105.4,596.5 -100.5,601.6 -95.7,606.5 -90.9,611.3 -86.1,616.1 -81.4,620.7 -76.6,625.2 -72.0,629.7 -67.3,634.1 -62.7,638.3 -58.1,642.5 -53.5,646.7 -49.0,650.7 -44.5,654.7 -40.0,658.6 -35.6,662.5 -31.1,666.3 -26.8,670.0 -22.4,673.7 -18.1,677.3 -13.8,680.9 -9.5,684.4 -5.2,687.8 -1.0,691.2 3.2,694.6 7.4,697.9 11.5,701.1 15.7,704.3 19.8,707.5 23.8,710.6 27.9,713.7 31.9,716.7 35.9,719.7 39.9,722.7 43.8,725.6 47.8,728.5 51.7,731.3 55.6,734.1 59.4,736.9 63.3,739.7 67.1,742.4 70.9,745.1 74.7,747.7 78.4,750.3 82.2,752.9 85.9,755.5 89.6,758.0 93.2,760.5 96.9,763.0 100.5,765.5 104.1,767.9 107.7,770.3 111.3,772.7 114.8,775.0 118.4,777.3 121.9,779.6 125.3,781.9 128.8,784.2 132.3,786.4 135.7,788.6 139.1,790.8 142.5,793.0 145.8,795.2 149.2,797.3 152.5,799.4 155.8,801.5" stroke="#ff0000"/>
<polyline points="45.7,-117.5 -80.1,-24.5 -169.3,41.5 -220.0,92.7 -220.0,134.5 -217.7,169.8 -213.8,200.4 -208.9,227.5 -203.4,251.6 -197.3,273.5 -190.9,293.4 -184.3,311.8 -177.5,328.8 -170.6,344.6 -163.7,359.4 -156.7,373.3 -149.7,386.4 -142.7,398.8 -135.7,410.6 -128.8,421.8 -121.8,432.4 -114.9,442.6 -108.1,452.4 -101.3,461.7 -94.6,470.7 -87.9,479.4 -81.2,487.7 -74.6,495.8 -68.1,503.5 -61.6,511.1 -55.2,518.3 -48.9,525.4 -42.6,532.3 -36.3,538.9 -30.1,545.4 -24.0,551.6 -17.9,557.8 -11.8,563.7 -5.8,569.5 0.1,575.2 6.0,580.7 11.8,586.1 17.6,591.4 23.3,596.5 29.0,601.6 34.7,606.5 40.3,611.3 45.8,616.1 51.3,620.7 56.8,625.2 62.2,629.7 67.6,634.1 72.9,638.3 78.2,642.5 83.5,646.7 88.7,650.7 93.9,654.7 99.0,658.6 104.1,662.5 109.2,666.3 114.2,670.0 119.2,673.7 124.1,677.3 129.0,680.9 133.9,684.4 138.7,687.8 143.5,691.2 148.3,694.6 153.0,697.9 157.7,701.1 162.3,704.3 166.9,707.5 171.5,710.6 176.1,713.7 180.6,716.7 185.1,719.7 189.5,722.7 193.9,725.6 198.3,728.5 202.7,731.3 207.0,734.1 211.3,736.9 215.5,739.7 219.7,742.4 223.9,745.1 228.0,747.7 232.2,750.3 236.2,752.9 240.3,755.5 244.3,758.0 248.3,760.5 252.2,763.0 256.2,765.5 260.0,767.9 263.9,770.3 267.7,772.7 271.5,775.0 275.3,777.3 279.0,779.6 282.7,781.9 286.3,784.2 290.0,786.4 293.6,788.6 297.1,790.8 300.7,793.0 304.2,795.2 307.6,797.3 311.1,799.4 314.5,801.5" stroke="#ff0000"/>
<polyline points="45.7,-117.5 -80.1,-24.5 -151.8,41.5 -151.5,92.7 -147.8,134.5 -142.2,169.8 -135.4,200.4 -127.8,227.5 -119.7,251.6 -111.4,273.5 -102.8,293.4 -94.1,311.8 -85.4,328.8 -76.7,344.6 -68.0,359.4 -59.3,373.3 -50.7,386.4 -42.2,398.8 -33.7,410.6 -25.3,421.8 -17.0,432.4 -8.7,442.6 -0.6,452.4 7.5,461.7 15.5,470.7 23.4,479.4 31.2,487.7 38.9,495.8 46.5,503.5 54.1,511.1 61.5,518.3 68.9,525.4 76.3,532.3 83.5,538.9 90.7,545.4 97.7,551.6 104.8,557.8 111.7,563.7 118.6,569.5 125.4,575.2 132.1,580.7 138.8,586.1 145.4,591.4 152.0,596.5 158.4,601.6 164.9,606.5 171.2,611.3 177.5,616.1 183.7,620.7 189.9,625.2 196.0,629.7 202.1,634.1 208.1,638.3 214.0,642.5 219.9,646.7 225.7,650.7 231.5,654.7 237.2,658.6 242.9,662.5 248.5,666.3 254.0,670.0 259.5,673.7 265.0,677.3 270.3,680.9 275.7,684.4 280.9,687.8 286.2,691.2 291.3,694.6 296.4,697.9 301.5,701.1 306.5,704.3 311.4,707.5 316.3,710.6 321.2,713.7 326.0,716.7 330.7,719.7 335.4,722.7 340.0,725.6 344.6,728.5 349.1,731.3 353.6,734.1 358.0,736.9 362.3,739.7 366.6,742.4 370.9,745.1 375.1,747.7 379.2,750.3 383.3,752.9 387.4,755.5 391.3,758.0 395.3,760.5 399.2,763.0 403.0,765.5 406.8,767.9 410.5,770.3 414.2,772.7 417.8,775.0 421.4,777.3 425.0,779.6 428.4,781.9 431.9,784.2 435.3,786.4 438.6,788.6 441.9,790.8 445.2,793.0 448.4,795.2 451.5,797.3 454.6,799.4 457.7,801.5" stroke="#ff0000"/>
<polyline points="45.7,-117.5 -80.1,-24.5 -87.5,41.5 -82.9,92.7 -75.6,134.5 -66.7,169.8 -56.9,200.4 -46.7,227.5 -36.1,251.6 -25.4,273.5 -14.7,293.4 -4.0,311.8 6.7,328.8 17.2,344.6 27.7,359.4 38.1,373.3 48.3,386.4 58.4,398.8 68.4,410.6 78.2,421.8 87.9,432.4 97.5,442.6 106.9,452.4 116.3,461.7 125.5,470.7 134.5,479.4 143.5,487.7 152.4,495.8 161.1,503.5 169.7,511.1 178.2,518.3 186.7,525.4 195.0,532.3 203.2,538.9 211.3,545.4 219.3,551.6 227.2,557.8 235.0,563.7 242.7,569.5 250.4,575.2 257.9,580.7 265.3,586.1 272.7,591.4 280.0,596.5 287.1,601.6 294.2,606.5 301.2,611.3 308.1,616.1 314.9,620.7 321.7,625.2 328.3,629.7 334.9,634.1 341.4,638.3 347.8,642.5 354.1,646.7 360.3,650.7 366.4,654.7 372.4,658.6 378.4,662.5 384.2,666.3 390.0,670.0 395.7,673.7 401.3,677.3 406.8,680.9 412.3,684.4 417.6,687.8 422.9,691.2 428.0,694.6 433.1,697.9 438.1,701.1 443.0,704.3 447.9,707.5 452.6,710.6 457.3,713.7 461.9,716.7 466.4,719.7 470.8,722.7 475.1,725.6 479.4,728.5 483.6,731.3 487.7,734.1 491.7,736.9 495.7,739.7 499.6,742.4 503.4,745.1 507.1,747.7 510.8,750.3 514.4,752.9 517.9,755.5 521.4,758.0 524.8,760.5 528.1,763.0 531.4,765.5 534.6,767.9 537.7,770.3 540.8,772.7 543.9,775.0 546.8,777.3 549.7,779.6 552.6,781.9 555.4,784.2 558.2,786.4 560.9,788.6 563.5,790.8 566.1,793.0 568.7,795.2 571.2,797.3 573.7,799.4 576.1,801.5" stroke="#ff0000"/>
<polyline points="45.7,-117.5 -27.5,-24.5 -23.2,41.5 -14.4,92.7 -3.4,134.5 8.8,169.8 21.5,200.4 34.5,227.5 47.5,251.6 60.5,273.5 73.4,293.4 86.2,311.8 98.8,328.8 111.2,344.6 123.4,359.4 135.4,373.3 147.3,386.4 158.9,398.8 170.4,410.6 181.7,421.8 192.7,432.4 203.7,442.6 214.4,452.4 225.0,461.7 235.4,470.7 245.7,479.4 255.8,487.7 265.7,495.8 275.5,503.5 285.2,511.1 294.7,518.3 304.0,525.4 313.3,532.3 322.3,538.9 331.3,545.4 340.1,551.6 348.8,557.8 357.3,563.7 365.7,569.5 374.0,575.2 382.1,580.7 390.1,586.1 398.0,591.4 405.7,596.5 413.3,601.6 420.7,606.5 428.0,611.3 435.2,616.1 442.2,620.7 449.1,625.2 455.9,629.7 462.5,634.1 469.0,638.3 475.4,642.5 481.6,646.7 487.7,650.7 493.6,654.7 499.5,658.6 505.1,662.5 510.7,666.3 516.1,670.0 521.4,673.7 526.6,677.3 531.7,680.9 536.6,684.4 541.4,687.8 546.1,691.2 550.7,694.6 555.1,697.9 559.5,701.1 563.8,704.3 567.9,707.5 571.9,710.6 575.9,713.7 579.7,716.7 583.5,719.7 587.2,722.7 590.7,725.6 594.2,728.5 597.6,731.3 600.9,734.1 604.1,736.9 607.3,739.7 610.4,742.4 613.4,745.1 616.3,747.7 619.2,750.3 622.0,752.9 624.7,755.5 627.4,758.0 630.0,760.5 632.5,763.0 635.0,765.5 637.5,767.9 639.9,770.3 642.2,772.7 644.5,775.0 646.7,777.3 648.9,779.6 651.0,781.9 653.1,784.2 655.1,786.4 657.1,788.6 659.1,790.8 661.0,793.0 662.9,795.2 664.7,797.3 666.5,799.4 668.3,801.5" stroke="#ff0000"/>
<polyline points="45.7,-117.5 31.7,-24.5 41.1,41.5 54.1,92.7 68.8,134.5 84.3,169.8 99.9,200.4 115.6,227.5 131.1,251.6 146.5,273.5 161.5,293.4 176.3,311.8 190.9,328.8 205.1,344.6 219.1,359.4 232.8,373.3 246.2,386.4 259.4,398.8 272.4,410.6 285.1,421.8 297.5,432.4 309.7,442.6 321.7,452.4 333.5,461.7 345.1,470.7 356.4,479.4 367.6,487.7 378.5,495.8 389.2,503.5 399.7,511.1 410.0,518.3 420.2,525.4 430.1,532.3 439.7,538.9 449.2,545.4 458.5,551.6 467.6,557.8 476.4,563.7 485.1,569.5 493.5,575.2 501.8,580.7 509.8,586.1 517.6,591.4 525.2,596.5 532.6,601.6 539.7,606.5 546.7,611.3 553.5,616.1 560.1,620.7 566.4,625.2 572.6,629.7 578.6,634.1 584.4,638.3 590.1,642.5 595.5,646.7 600.8,650.7 605.9,654.7 610.9,658.6 615.7,662.5 620.3,666.3 624.8,670.0 629.2,673.7 633.4,677.3 637.5,680.9 641.4,684.4 645.3,687.8 649.0,691.2 652.6,694.6 656.1,697.9 659.5,701.1 662.7,704.3 665.9,707.5 669.0,710.6 672.0,713.7 674.9,716.7 677.7,719.7 680.5,722.7 683.2,725.6 685.8,728.5 688.3,731.3 690.7,734.1 693.1,736.9 695.4,739.7 697.7,742.4 699.9,745.1 702.0,747.7 704.1,750.3 706.2,752.9 708.1,755.5 710.1,758.0 712.0,760.5 713.8,763.0 715.6,765.5 717.3,767.9 719.1,770.3 720.7,772.7 722.4,775.0 724.0,777.3 725.5,779.6 727.1,781.9 728.5,784.2 730.0,786.4 731.4,788.6 732.8,790.8 734.2,793.0 735.5,795.2 736.9,797.3 738.2,799.4 739.4,801.5" stroke="#ff0000"/>
<polyline points="84.3,-117.5 90.9,-24.5 105.3,41.5 122.7,92.7 141.1,134.5 159.7,169.8 178.4,200.4 196.7,227.5 214.8,251.6 232.4,273.5 249.6,293.4 266.5,311.8 283.0,328.8 299.1,344.6 314.8,359.4 330.1,373.3 345.1,386.4 359.8,398.8 374.2,410.6 388.2,421.8 401.9,432.4 415.3,442.6 428.5,452.4 441.3,461.7 453.8,470.7 466.0,479.4 477.8,487.7 489.4,495.8 500.7,503.5 511.7,511.1 522.3,518.3 532.6,525.4 542.6,532.3 552.3,538.9 561.7,545.4 570.7,551.6 579.5,557.8 587.9,563.7 596.0,569.5 603.8,575.2 611.4,580.7 618.6,586.1 625.6,591.4 632.2,596.5 638.7,601.6 644.8,606.5 650.7,611.3 656.4,616.1 661.9,620.7 667.1,625.2 672.1,629.7 676.9,634.1 681.6,638.3 686.0,642.5 690.3,646.7 694.4,650.7 698.3,654.7 702.1,658.6 705.8,662.5 709.3,666.3 712.7,670.0 716.0,673.7 719.1,677.3 722.1,680.9 725.1,684.4 727.9,687.8 730.6,691.2 733.2,694.6 735.8,697.9 738.2,701.1 740.6,704.3 742.9,707.5 745.2,710.6 747.3,713.7 749.4,716.7 751.4,719.7 753.4,722.7 755.3,725.6 757.2,728.5 759.0,731.3 760.7,734.1 762.4,736.9 764.1,739.7 765.7,742.4 767.2,745.1 768.8,747.7 770.2,750.3 771.7,752.9 773.1,755.5 774.5,758.0 775.8,760.5 777.1,763.0 778.4,765.5 779.6,767.9 780.8,770.3 782.0,772.7 783.2,775.0 784.3,777.3 785.4,779.6 786.5,781.9 787.6,784.2 788.6,786.4 789.6,788.6 790.6,790.8 791.6,793.0 792.5,795.2 793.5,797.3 794.4,799.4 795.3,801.5" stroke="#ff0000"/>
<polyline points="137.0,-117.5 150.1,-24.5 169.6,41.5 191.2,92.7 213.3,134.5 235.2,169.8 256.8,200.4 277.9,227.5 298.4,251.6 318.3,273.5 337.7,293.4 356.6,311.8 375.0,328.8 392.9,344.6 410.3,359.4 427.2,373.3 443.7,386.4 459.8,398.8 475.4,410.6 490.6,421.8 505.3,432.4 519.6,442.6 533.4,452.4 546.8,461.7 559.7,470.7 572.1,479.4 584.1,487.7 595.6,495.8 606.6,503.5 617.2,511.1 627.3,518.3 636.9,525.4 646.2,532.3 654.9,538.9 663.3,545.4 671.2,551.6 678.7,557.8 685.9,563.7 692.7,569.5 699.2,575.2 705.3,580.7 711.2,586.1 716.7,591.4 722.0,596.5 727.0,601.6 731.8,606.5 736.3,611.3 740.6,616.1 744.7,620.7 748.7,625.2 752.4,629.7 756.0,634.1 759.4,638.3 762.7,642.5 765.8,646.7 768.8,650.7 771.6,654.7 774.4,658.6 777.0,662.5 779.5,666.3 782.0,670.0 784.3,673.7 786.5,677.3 788.7,680.9 790.8,684.4 792.8,687.8 794.7,691.2 796.6,694.6 798.4,697.9 800.1,701.1 801.8,704.3 803.4,707.5 805.0,710.6 806.5,713.7 808.0,716.7 809.4,719.7 810.8,722.7 812.1,725.6 813.4,728.5 814.7,731.3 815.9,734.1 817.1,736.9 818.3,739.7 819.4,742.4 820.5,745.1 821.6,747.7 822.6,750.3 823.6,752.9 824.6,755.5 825.6,758.0 826.5,760.5 827.4,763.0 828.3,765.5 829.2,767.9 830.1,770.3 830.9,772.7 831.7,775.0 832.5,777.3 833.3,779.6 834.1,781.9 834.8,784.2 835.5,786.4 836.3,788.6 837.0,790.8 837.7,793.0 838.3,795.2 839.0,797.3 839.6,799.4 840.3,801.5" stroke="#ff0000"/>
<polyline points="189.6,-117.5 209.2,-24.5 233.9,41.5 259.7,92.7 285.5,134.5 310.7,169.8 335.2,200.4 359.0,227.5 382.0,251.6 404.2,273.5 425.8,293.4 446.7,311.8 466.9,328.8 486.4,344.6 505.4,359.4 523.7,373.3 541.4,386.4 558.4,398.8 574.9,410.6 590.6,421.8 605.7,432.4 620.1,442.6 633.8,452.4 646.9,461.7 659.2,470.7 670.9,479.4 682.0,487.7 692.4,495.8 702.1,503.5 711.3,511.1 719.9,518.3 728.0,525.4 735.6,532.3 742.8,538.9 749.4,545.4 755.7,551.6 761.6,557.8 767.1,563.7 772.3,569.5 777.2,575.2 781.8,580.7 786.2,586.1 790.3,591.4 794.1,596.5 797.8,601.6 801.3,606.5 804.5,611.3 807.7,616.1 810.6,620.7 813.4,625.2 816.1,629.7 818.6,634.1 821.0,638.3 823.3,642.5 825.5,646.7 827.6,650.7 829.6,654.7 831.6,658.6 833.4,662.5 835.2,666.3 836.9,670.0 838.5,673.7 840.1,677.3 841.6,680.9 843.0,684.4 844.4,687.8 845.7,691.2 847.0,694.6 848.3,697.9 849.5,701.1 850.7,704.3 851.8,707.5 852.9,710.6 853.9,713.7 855.0,716.7 855.9,719.7 856.9,722.7 857.8,725.6 858.7,728.5 859.6,731.3 860.5,734.1 861.3,736.9 862.1,739.7 862.9,742.4 863.6,745.1 864.4,747.7 865.1,750.3 865.8,752.9 866.5,755.5 867.2,758.0 867.8,760.5 868.5,763.0 869.1,765.5 869.7,767.9 870.3,770.3 870.9,772.7 871.4,775.0 872.0,777.3 872.5,779.6 873.1,781.9 873.6,784.2 874.1,786.4 874.6,788.6 875.1,790.8 875.6,793.0 876.1,795.2 876.5,797.3 877.0,799.4 877.4,801.5" stroke="#ff0000"/>
<polyline points="242.3,-117.5 268.4,-24.5 298.2,41.5 328.3,92.7 357.7,134.5 386.2,169.8 413.6,200.4 440.1,227.5 465.5,251.6 490.0,273.5 513.6,293.4 536.3,311.8 558.2,328.8 579.1,344.6 599.2,359.4 618.4,373.3 636.6,386.4 653.8,398.8 670.1,410.6 685.5,421.8 699.8,432.4 713.2,442.6 725.6,452.4 737.2,461.7 747.9,470.7 757.8,479.4 767.0,487.7 775.5,495.8 783.3,503.5 790.6,511.1 797.3,518.3 803.5,525.4 809.2,532.3 814.5,538.9 819.5,545.4 824.1,551.6 828.4,557.8 832.4,563.7 836.2,569.5 839.7,575.2 843.0,580.7 846.0,586.1 848.9,591.4 851.7,596.5 854.2,601.6 856.7,606.5 859.0,611.3 861.1,616.1 863.2,620.7 865.1,625.2 867.0,629.7 868.7,634.1 870.4,638.3 872.0,642.5 873.5,646.7 874.9,650.7 876.3,654.7 877.6,658.6 878.9,662.5 880.1,666.3 881.2,670.0 882.3,673.7 883.4,677.3 884.4,680.9 885.4,684.4 886.4,687.8 887.3,691.2 888.2,694.6 889.0,697.9 889.8,701.1 890.6,704.3 891.4,707.5 892.1,710.6 892.8,713.7 893.5,716.7 894.2,719.7 894.8,722.7 895.5,725.6 896.1,728.5 896.7,731.3 897.2,734.1 897.8,736.9 898.3,739.7 898.9,742.4 899.4,745.1 899.9,747.7 900.4,750.3 900.8,752.9 901.3,755.5 901.8,758.0 902.2,760.5 902.6,763.0 903.1,765.5 903.5,767.9 903.9,770.3 904.3,772.7 904.7,775.0 905.0,777.3 905.4,779.6 905.8,781.9 906.1,784.2 906.5,786.4 906.8,788.6 907.1,790.8 907.5,793.0 907.8,795.2 908.1,797.3 908.4,799.4 908.7,801.5" stroke="#ff0000"/>
<polyline points="295.0,-117.5 327.6,-24.5 362.4,41.5 396.8,92.7 429.9,134.5 461.7,169.8 492.0,200.4 521.1,227.5 548.9,251.6 575.5,273.5 600.9,293.4 625.1,311.8 648.0,328.8 669.6,344.6 689.9,359.4 708.9,373.3 726.5,386.4 742.7,398.8 757.5,410.6 771.1,421.8 783.5,432.4 794.8,442.6 805.0,452.4 814.3,461.7 822.8,470.7 830.5,479.4 837.5,487.7 843.8,495.8 849.7,503.5 855.0,511.1 859.9,518.3 864.3,525.4 868.5,532.3 872.3,538.9 875.8,545.4 879.0,551.6 882.0,557.8 884.8,563.7 887.4,569.5 889.9,575.2 892.1,580.7 894.2,586.1 896.2,591.4 898.1,596.5 899.8,601.6 901.5,606.5 903.0,611.3 904.5,616.1 905.9,620.7 907.2,625.2 908.4,629.7 909.6,634.1 910.7,638.3 911.7,642.5 912.7,646.7 913.7,650.7 914.6,654.7 915.5,658.6 916.3,662.5 917.1,666.3 917.9,670.0 918.6,673.7 919.3,677.3 919.9,680.9 920.6,684.4 921.2,687.8 921.8,691.2 922.4,694.6 922.9,697.9 923.4,701.1 924.0,704.3 924.4,707.5 924.9,710.6 925.4,713.7 925.8,716.7 926.2,719.7 926.7,722.7 927.1,725.6 927.5,728.5 927.8,731.3 928.2,734.1 928.6,736.9 928.9,739.7 929.2,742.4 929.6,745.1 929.9,747.7 930.2,750.3 930.5,752.9 930.8,755.5 931.1,758.0 931.4,760.5 931.7,763.0 931.9,765.5 932.2,767.9 932.4,770.3 932.7,772.7 932.9,775.0 933.2,777.3 933.4,779.6 933.7,781.9 933.9,784.2 934.1,786.4 934.3,788.6 934.5,790.8 934.8,793.0 935.0,795.2 935.2,797.3 935.4,799.4 935.6,801.5" stroke="#ff0000"/>
<polyline points="347.7,-117.5 386.8,-24.5 426.7,41.5 465.3,92.7 502.1,134.5 537.1,169.8 570.3,200.4 601.9,227.5 631.8,251.6 660.1,273.5 686.7,293.4 711.5,311.8 734.4,328.8 755.5,344.6 774.6,359.4 791.9,373.3 807.4,386.4 821.2,398.8 833.6,410.6 844.6,421.8 854.4,432.4 863.1,442.6 870.8,452.4 877.8,461.7 884.0,470.7 889.6,479.4 894.6,487.7 899.2,495.8 903.3,503.5 907.0,511.1 910.4,518.3 913.5,525.4 916.4,532.3 919.0,538.9 921.4,545.4 923.6,551.6 925.6,557.8 927.5,563.7 929.2,569.5 930.8,575.2 932.3,580.7 933.7,586.1 935.0,591.4 936.2,596.5 937.4,601.6 938.4,606.5 939.4,611.3 940.4,616.1 941.2,620.7 942.1,625.2 942.8,629.7 943.6,634.1 944.3,638.3 944.9,642.5 945.6,646.7 946.1,650.7 946.7,654.7 947.2,658.6 947.7,662.5 948.2,666.3 948.7,670.0 949.1,673.7 949.5,677.3 949.9,680.9 950.3,684.4 950.7,687.8 951.0,691.2 951.4,694.6 951.7,697.9 952.0,701.1 952.3,704.3 952.6,707.5 952.9,710.6 953.1,713.7 953.4,716.7 953.6,719.7 953.9,722.7 954.1,725.6 954.3,728.5 954.5,731.3 954.8,734.1 955.0,736.9 955.2,739.7 955.3,742.4 955.5,745.1 955.7,747.7 955.9,750.3 956.1,752.9 956.2,755.5 956.4,758.0 956.5,760.5 956.7,763.0 956.8,765.5 957.0,767.9 957.1,770.3 957.3,772.7 957.4,775.0 957.6,777.3 957.7,779.6 957.8,781.9 958.0,784.2 958.1,786.4 958.2,788.6 958.3,790.8 958.4,793.0 958.6,795.2 958.7,797.3 958.8,799.4 958.9,801.5" stroke="#ff0000"/>
<polyline points="400.4,-117.5 446.0,-24.5 491.0,41.5 533.8,92.7 574.3,134.5 612.4,169.8 648.3,200.4 682.1,227.5 713.5,251.6 742.6,273.5 769.2,293.4 793.1,311.8 814.5,328.8 833.3,344.6 849.9,359.4 864.3,373.3 876.8,386.4 887.6,398.8 897.1,410.6 905.4,421.8 912.6,432.4 918.9,442.6 924.5,452.4 929.4,461.7 933.8,470.7 937.7,479.4 941.1,487.7 944.2,495.8 947.0,503.5 949.5,511.1 951.8,518.3 953.8,525.4 955.7,532.3 957.4,538.9 958.9,545.4 960.4,551.6 961.6,557.8 962.8,563.7 963.9,569.5 964.9,575.2 965.8,580.7 966.7,586.1 967.5,591.4 968.2,596.5 968.9,601.6 969.5,606.5 970.1,611.3 970.6,616.1 971.1,620.7 971.6,625.2 972.0,629.7 972.4,634.1 972.8,638.3 973.1,642.5 973.5,646.7 973.8,650.7 974.1,654.7 974.4,658.6 974.6,662.5 974.9,666.3 975.1,670.0 975.3,673.7 975.5,677.3 975.7,680.9 975.9,684.4 976.1,687.8 976.2,691.2 976.4,694.6 976.5,697.9 976.7,701.1 976.8,704.3 976.9,707.5 977.0,710.6 977.2,713.7 977.3,716.7 977.4,719.7 977.5,722.7 977.6,725.6 977.7,728.5 977.7,731.3 977.8,734.1 977.9,736.9 978.0,739.7 978.1,742.4 978.1,745.1 978.2,747.7 978.3,750.3 978.3,752.9 978.4,755.5 978.5,758.0 978.5,760.5 978.6,763.0 978.7,765.5 978.7,767.9 978.8,770.3 978.8,772.7 978.9,775.0 978.9,777.3 979.0,779.6 979.0,781.9 979.1,784.2 979.1,786.4 979.2,788.6 979.2,790.8 979.3,793.0 979.3,795.2 979.4,797.3 979.4,799.4 979.5,801.5" stroke="#ff0000"/>
<polyline points="453.0,-117.5 505.1,-24.5 555.3,41.5 602.3,92.7 646.3,134.5 687.4,169.8 725.6,200.4 760.7,227.5 792.5,251.6 820.9,273.5 845.7,293.4 867.1,311.8 885.3,328.8 900.8,344.6 913.9,359.4 925.0,373.3 934.4,386.4 942.4,398.8 949.2,410.6 955.1,421.8 960.2,432.4 964.5,442.6 968.4,452.4 971.7,461.7 974.6,470.7 977.2,479.4 979.4,487.7 981.4,495.8 983.2,503.5 984.8,511.1 986.2,518.3 987.4,525.4 988.6,532.3 989.6,538.9 990.5,545.4 991.3,551.6 992.0,557.8 992.7,563.7 993.3,569.5 993.8,575.2 994.3,580.7 994.7,586.1 995.1,591.4 995.4,596.5 995.8,601.6 996.0,606.5 996.3,611.3 996.5,616.1 996.7,620.7 996.9,625.2 997.1,629.7 997.2,634.1 997.4,638.3 997.5,642.5 997.6,646.7 997.7,650.7 997.8,654.7 997.9,658.6 997.9,662.5 998.0,666.3 998.0,670.0 998.1,673.7 998.1,677.3 998.1,680.9 998.2,684.4 998.2,687.8 998.2,691.2 998.2,694.6 998.2,697.9 998.2,701.1 998.2,704.3 998.2,707.5 998.2,710.6 998.2,713.7 998.2,716.7 998.2,719.7 998.2,722.7 998.2,725.6 998.2,728.5 998.2,731.3 998.1,734.1 998.1,736.9 998.1,739.7 998.1,742.4 998.1,745.1 998.1,747.7 998.0,750.3 998.0,752.9 998.0,755.5 998.0,758.0 998.0,760.5 998.0,763.0 997.9,765.5 997.9,767.9 997.9,770.3 997.9,772.7 997.9,775.0 997.9,777.3 997.8,779.6 997.8,781.9 997.8,784.2 997.8,786.4 997.8,788.6 997.8,790.8 997.8,793.0 997.8,795.2 997.7,797.3 997.7,799.4 997.7,801.5" stroke="#ff0000"/>
<polyline points="505.7,-117.5 564.3,-24.5 619.5,41.5 670.8,92.7 718.1,134.5 761.7,169.8 801.2,200.4 836.2,227.5 866.5,251.6 892.2,273.5 913.6,293.4 931.1,311.8 945.6,328.8 957.4,344.6 967.1,359.4 975.1,373.3 981.8,386.4 987.4,398.8 992.1,410.6 996.0,421.8 999.4,432.4 1002.3,442.6 1004.7,452.4 1006.8,461.7 1008.6,470.7 1010.2,479.4 1011.5,487.7 1012.7,495.8 1013.7,503.5 1014.5,511.1 1015.3,518.3 1015.9,525.4 1016.5,532.3 1017.0,538.9 1017.4,545.4 1017.7,551.6 1018.0,557.8 1018.3,563.7 1018.5,569.5 1018.6,575.2 1018.8,580.7 1018.9,586.1 1019.0,591.4 1019.0,596.5 1019.1,601.6 1019.1,606.5 1019.1,611.3 1019.1,616.1 1019.1,620.7 1019.0,625.2 1019.0,629.7 1018.9,634.1 1018.9,638.3 1018.8,642.5 1018.7,646.7 1018.6,650.7 1018.6,654.7 1018.5,658.6 1018.4,662.5 1018.3,666.3 1018.2,670.0 1018.1,673.7 1018.0,677.3 1017.9,680.9 1017.8,684.4 1017.7,687.8 1017.6,691.2 1017.5,694.6 1017.4,697.9 1017.3,701.1 1017.2,704.3 1017.1,707.5 1017.0,710.6 1016.9,713.7 1016.8,716.7 1016.7,719.7 1016.6,722.7 1016.5,725.6 1016.4,728.5 1016.3,731.3 1016.2,734.1 1016.1,736.9 1016.0,739.7 1015.9,742.4 1015.8,745.1 1015.7,747.7 1015.6,750.3 1015.6,752.9 1015.5,755.5 1015.4,758.0 1015.3,760.5 1015.2,763.0 1015.2,765.5 1015.1,767.9 1015.0,770.3 1014.9,772.7 1014.9,775.0 1014.8,777.3 1014.7,779.6 1014.7,781.9 1014.6,784.2 1014.5,786.4 1014.5,788.6 1014.4,790.8 1014.3,793.0 1014.3,795.2 1014.2,797.3 1014.2,799.4 1014.1,801.5" stroke="#ff0000"/>
<polyline points="558.4,-117.5 623.5,-24.5 683.8,41.5 739.0,92.7 789.3,134.5 834.3,169.8 873.4,200.4 906.3,227.5 933.1,251.6 954.6,273.5 971.6,293.4 985.0,311.8 995.7,328.8 1004.2,344.6 1011.0,359.4 1016.5,373.3 1021.0,386.4 1024.7,398.8 1027.7,410.6 1030.2,421.8 1032.2,432.4 1033.9,442.6 1035.3,452.4 1036.5,461.7 1037.4,470.7 1038.2,479.4 1038.8,487.7 1039.3,495.8 1039.7,503.5 1040.0,511.1 1040.3,518.3 1040.5,525.4 1040.6,532.3 1040.6,538.9 1040.6,545.4 1040.6,551.6 1040.6,557.8 1040.5,563.7 1040.4,569.5 1040.3,575.2 1040.2,580.7 1040.0,586.1 1039.9,591.4 1039.7,596.5 1039.5,601.6 1039.3,606.5 1039.1,611.3 1038.9,616.1 1038.7,620.7 1038.5,625.2 1038.3,629.7 1038.1,634.1 1037.9,638.3 1037.6,642.5 1037.4,646.7 1037.2,650.7 1037.0,654.7 1036.8,658.6 1036.6,662.5 1036.3,666.3 1036.1,670.0 1035.9,673.7 1035.7,677.3 1035.5,680.9 1035.3,684.4 1035.1,687.8 1034.9,691.2 1034.7,694.6 1034.5,697.9 1034.3,701.1 1034.1,704.3 1033.9,707.5 1033.8,710.6 1033.6,713.7 1033.4,716.7 1033.2,719.7 1033.0,722.7 1032.9,725.6 1032.7,728.5 1032.5,731.3 1032.4,734.1 1032.2,736.9 1032.1,739.7 1031.9,742.4 1031.8,745.1 1031.6,747.7 1031.5,750.3 1031.3,752.9 1031.2,755.5 1031.1,758.0 1030.9,760.5 1030.8,763.0 1030.7,765.5 1030.5,767.9 1030.4,770.3 1030.3,772.7 1030.2,775.0 1030.1,777.3 1029.9,779.6 1029.8,781.9 1029.7,784.2 1029.6,786.4 1029.5,788.6 1029.4,790.8 1029.3,793.0 1029.2,795.2 1029.1,797.3 1029.0,799.4 1028.9,801.5" stroke="#ff0000"/>
<polyline points="611.1,-117.5 682.7,-24.5 747.9,41.5 806.8,92.7 859.0,134.5 903.6,169.8 940.1,200.4 968.8,227.5 990.8,251.6 1007.4,273.5 1020.1,293.4 1029.8,311.8 1037.3,328.8 1043.0,344.6 1047.5,359.4 1051.1,373.3 1053.9,386.4 1056.0,398.8 1057.8,410.6 1059.1,421.8 1060.1,432.4 1060.9,442.6 1061.5,452.4 1061.9,461.7 1062.2,470.7 1062.4,479.4 1062.4,487.7 1062.4,495.8 1062.4,503.5 1062.2,511.1 1062.1,518.3 1061.9,525.4 1061.6,532.3 1061.3,538.9 1061.1,545.4 1060.8,551.6 1060.4,557.8 1060.1,563.7 1059.8,569.5 1059.4,575.2 1059.1,580.7 1058.7,586.1 1058.3,591.4 1058.0,596.5 1057.6,601.6 1057.3,606.5 1056.9,611.3 1056.5,616.1 1056.2,620.7 1055.8,625.2 1055.5,629.7 1055.1,634.1 1054.8,638.3 1054.5,642.5 1054.1,646.7 1053.8,650.7 1053.5,654.7 1053.1,658.6 1052.8,662.5 1052.5,666.3 1052.2,670.0 1051.9,673.7 1051.6,677.3 1051.3,680.9 1051.0,684.4 1050.7,687.8 1050.4,691.2 1050.2,694.6 1049.9,697.9 1049.6,701.1 1049.4,704.3 1049.1,707.5 1048.9,710.6 1048.6,713.7 1048.4,716.7 1048.1,719.7 1047.9,722.7 1047.7,725.6 1047.5,728.5 1047.2,731.3 1047.0,734.1 1046.8,736.9 1046.6,739.7 1046.4,742.4 1046.2,745.1 1046.0,747.7 1045.8,750.3 1045.6,752.9 1045.4,755.5 1045.2,758.0 1045.1,760.5 1044.9,763.0 1044.7,765.5 1044.5,767.9 1044.4,770.3 1044.2,772.7 1044.1,775.0 1043.9,777.3 1043.8,779.6 1043.6,781.9 1043.5,784.2 1043.3,786.4 1043.2,788.6 1043.0,790.8 1042.9,793.0 1042.8,795.2 1042.6,797.3 1042.5,799.4 1042.4,801.5" stroke="#ff0000"/>
<polyline points="663.7,-117.5 741.8,-24.5 811.8,41.5 873.6,92.7 925.9,134.5 967.8,169.8 999.5,200.4 1022.7,227.5 1039.5,251.6 1051.6,273.5 1060.6,293.4 1067.1,311.8 1072.0,328.8 1075.6,344.6 1078.3,359.4 1080.3,373.3 1081.8,386.4 1082.8,398.8 1083.5,410.6 1083.9,421.8 1084.2,432.4 1084.2,442.6 1084.2,452.4 1084.0,461.7 1083.8,470.7 1083.4,479.4 1083.1,487.7 1082.7,495.8 1082.2,503.5 1081.7,511.1 1081.2,518.3 1080.7,525.4 1080.2,532.3 1079.7,538.9 1079.1,545.4 1078.6,551.6 1078.1,557.8 1077.5,563.7 1077.0,569.5 1076.4,575.2 1075.9,580.7 1075.4,586.1 1074.9,591.4 1074.3,596.5 1073.8,601.6 1073.3,606.5 1072.8,611.3 1072.4,616.1 1071.9,620.7 1071.4,625.2 1070.9,629.7 1070.5,634.1 1070.0,638.3 1069.6,642.5 1069.2,646.7 1068.7,650.7 1068.3,654.7 1067.9,658.6 1067.5,662.5 1067.1,666.3 1066.7,670.0 1066.3,673.7 1066.0,677.3 1065.6,680.9 1065.2,684.4 1064.9,687.8 1064.5,691.2 1064.2,694.6 1063.9,697.9 1063.5,701.1 1063.2,704.3 1062.9,707.5 1062.6,710.6 1062.3,713.7 1062.0,716.7 1061.7,719.7 1061.4,722.7 1061.1,725.6 1060.9,728.5 1060.6,731.3 1060.3,734.1 1060.1,736.9 1059.8,739.7 1059.6,742.4 1059.3,745.1 1059.1,747.7 1058.8,750.3 1058.6,752.9 1058.4,755.5 1058.2,758.0 1058.0,760.5 1057.7,763.0 1057.5,765.5 1057.3,767.9 1057.1,770.3 1056.9,772.7 1056.7,775.0 1056.6,777.3 1056.4,779.6 1056.2,781.9 1056.0,784.2 1055.8,786.4 1055.7,788.6 1055.5,790.8 1055.3,793.0 1055.2,795.2 1055.0,797.3 1054.9,799.4 1054.7,801.5" stroke="#ff0000"/>
<polyline points="716.4,-117.5 800.9,-24.5 875.2,41.5 938.3,92.7 988.3,134.5 1025.0,169.8 1050.6,200.4 1068.1,227.5 1080.2,251.6 1088.7,273.5 1094.5,293.4 1098.6,311.8 1101.5,328.8 1103.4,344.6 1104.7,359.4 1105.4,373.3 1105.8,386.4 1105.9,398.8 1105.8,410.6 1105.6,421.8 1105.2,432.4 1104.7,442.6 1104.1,452.4 1103.5,461.7 1102.8,470.7 1102.1,479.4 1101.3,487.7 1100.6,495.8 1099.8,503.5 1099.1,511.1 1098.3,518.3 1097.6,525.4 1096.8,532.3 1096.1,538.9 1095.3,545.4 1094.6,551.6 1093.9,557.8 1093.1,563.7 1092.4,569.5 1091.7,575.2 1091.1,580.7 1090.4,586.1 1089.7,591.4 1089.1,596.5 1088.5,601.6 1087.8,606.5 1087.2,611.3 1086.6,616.1 1086.1,620.7 1085.5,625.2 1084.9,629.7 1084.4,634.1 1083.8,638.3 1083.3,642.5 1082.8,646.7 1082.3,650.7 1081.8,654.7 1081.3,658.6 1080.8,662.5 1080.4,666.3 1079.9,670.0 1079.5,673.7 1079.0,677.3 1078.6,680.9 1078.2,684.4 1077.8,687.8 1077.4,691.2 1077.0,694.6 1076.6,697.9 1076.2,701.1 1075.8,704.3 1075.5,707.5 1075.1,710.6 1074.8,713.7 1074.4,716.7 1074.1,719.7 1073.8,722.7 1073.4,725.6 1073.1,728.5 1072.8,731.3 1072.5,734.1 1072.2,736.9 1071.9,739.7 1071.6,742.4 1071.3,745.1 1071.1,747.7 1070.8,750.3 1070.5,752.9 1070.3,755.5 1070.0,758.0 1069.8,760.5 1069.5,763.0 1069.3,765.5 1069.1,767.9 1068.8,770.3 1068.6,772.7 1068.4,775.0 1068.2,777.3 1068.0,779.6 1067.8,781.9 1067.5,784.2 1067.3,786.4 1067.2,788.6 1067.0,790.8 1066.8,793.0 1066.6,795.2 1066.4,797.3 1066.2,799.4 1066.1,801.5" stroke="#ff0000"/>
<polyline points="769.1,-117.5 859.8,-24.5 937.5,41.5 999.7,92.7 1044.5,134.5 1074.4,169.8 1093.8,200.4 1106.4,227.5 1114.6,251.6 1119.9,273.5 1123.3,293.4 1125.5,311.8 1126.7,328.8 1127.3,344.6 1127.4,359.4 1127.3,373.3 1126.8,386.4 1126.2,398.8 1125.4,410.6 1124.6,421.8 1123.7,432.4 1122.7,442.6 1121.7,452.4 1120.7,461.7 1119.7,470.7 1118.7,479.4 1117.6,487.7 1116.6,495.8 1115.6,503.5 1114.6,511.1 1113.6,518.3 1112.7,525.4 1111.7,532.3 1110.8,538.9 1109.9,545.4 1109.0,551.6 1108.1,557.8 1107.3,563.7 1106.4,569.5 1105.6,575.2 1104.8,580.7 1104.0,586.1 1103.2,591.4 1102.5,596.5 1101.7,601.6 1101.0,606.5 1100.3,611.3 1099.6,616.1 1099.0,620.7 1098.3,625.2 1097.7,629.7 1097.0,634.1 1096.4,638.3 1095.8,642.5 1095.2,646.7 1094.7,650.7 1094.1,654.7 1093.6,658.6 1093.0,662.5 1092.5,666.3 1092.0,670.0 1091.5,673.7 1091.0,677.3 1090.5,680.9 1090.0,684.4 1089.6,687.8 1089.1,691.2 1088.7,694.6 1088.2,697.9 1087.8,701.1 1087.4,704.3 1087.0,707.5 1086.6,710.6 1086.2,713.7 1085.8,716.7 1085.5,719.7 1085.1,722.7 1084.7,725.6 1084.4,728.5 1084.0,731.3 1083.7,734.1 1083.4,736.9 1083.0,739.7 1082.7,742.4 1082.4,745.1 1082.1,747.7 1081.8,750.3 1081.5,752.9 1081.2,755.5 1080.9,758.0 1080.7,760.5 1080.4,763.0 1080.1,765.5 1079.9,767.9 1079.6,770.3 1079.4,772.7 1079.1,775.0 1078.9,777.3 1078.6,779.6 1078.4,781.9 1078.2,784.2 1078.0,786.4 1077.7,788.6 1077.5,790.8 1077.3,793.0 1077.1,795.2 1076.9,797.3 1076.7,799.4 1076.5,801.5" stroke="#ff0000"/>
<polyline points="821.7,-117.5 918.4,-24.5 997.8,41.5 1055.9,92.7 1093.5,134.5 1116.5,169.8 1130.3,200.4 1138.7,227.5 1143.7,251.6 1146.6,273.5 1148.1,293.4 1148.7,311.8 1148.7,328.8 1148.2,344.6 1147.4,359.4 1146.4,373.3 1145.3,386.4 1144.1,398.8 1142.8,410.6 1141.5,421.8 1140.2,432.4 1138.9,442.6 1137.5,452.4 1136.2,461.7 1134.9,470.7 1133.6,479.4 1132.3,487.7 1131.1,495.8 1129.9,503.5 1128.7,511.1 1127.5,518.3 1126.4,525.4 1125.3,532.3 1124.2,538.9 1123.1,545.4 1122.1,551.6 1121.1,557.8 1120.1,563.7 1119.1,569.5 1118.2,575.2 1117.3,580.7 1116.4,586.1 1115.5,591.4 1114.7,596.5 1113.9,601.6 1113.1,606.5 1112.3,611.3 1111.5,616.1 1110.8,620.7 1110.1,625.2 1109.3,629.7 1108.6,634.1 1108.0,638.3 1107.3,642.5 1106.7,646.7 1106.0,650.7 1105.4,654.7 1104.8,658.6 1104.2,662.5 1103.6,666.3 1103.1,670.0 1102.5,673.7 1102.0,677.3 1101.5,680.9 1100.9,684.4 1100.4,687.8 1099.9,691.2 1099.5,694.6 1099.0,697.9 1098.5,701.1 1098.1,704.3 1097.6,707.5 1097.2,710.6 1096.8,713.7 1096.4,716.7 1096.0,719.7 1095.6,722.7 1095.2,725.6 1094.8,728.5 1094.4,731.3 1094.0,734.1 1093.7,736.9 1093.3,739.7 1093.0,742.4 1092.6,745.1 1092.3,747.7 1092.0,750.3 1091.7,752.9 1091.4,755.5 1091.0,758.0 1090.7,760.5 1090.5,763.0 1090.2,765.5 1089.9,767.9 1089.6,770.3 1089.3,772.7 1089.1,775.0 1088.8,777.3 1088.5,779.6 1088.3,781.9 1088.0,784.2 1087.8,786.4 1087.6,788.6 1087.3,790.8 1087.1,793.0 1086.9,795.2 1086.7,797.3 1086.4,799.4 1086.2,801.5" stroke="#ff0000"/>
<polyline points="874.4,-117.5 976.3,-24.5 1054.7,41.5 1105.9,92.7 1135.5,134.5 1152.1,169.8 1161.3,200.4 1166.3,227.5 1168.8,251.6 1169.7,273.5 1169.7,293.4 1169.0,311.8 1167.9,328.8 1166.6,344.6 1165.1,359.4 1163.5,373.3 1161.8,386.4 1160.1,398.8 1158.4,410.6 1156.7,421.8 1155.0,432.4 1153.4,442.6 1151.8,452.4 1150.2,461.7 1148.6,470.7 1147.1,479.4 1145.6,487.7 1144.2,495.8 1142.8,503.5 1141.5,511.1 1140.1,518.3 1138.8,525.4 1137.6,532.3 1136.4,538.9 1135.2,545.4 1134.1,551.6 1132.9,557.8 1131.9,563.7 1130.8,569.5 1129.8,575.2 1128.8,580.7 1127.8,586.1 1126.8,591.4 1125.9,596.5 1125.0,601.6 1124.1,606.5 1123.3,611.3 1122.5,616.1 1121.7,620.7 1120.9,625.2 1120.1,629.7 1119.3,634.1 1118.6,638.3 1117.9,642.5 1117.2,646.7 1116.5,650.7 1115.8,654.7 1115.2,658.6 1114.6,662.5 1113.9,666.3 1113.3,670.0 1112.7,673.7 1112.2,677.3 1111.6,680.9 1111.0,684.4 1110.5,687.8 1110.0,691.2 1109.4,694.6 1108.9,697.9 1108.4,701.1 1108.0,704.3 1107.5,707.5 1107.0,710.6 1106.6,713.7 1106.1,716.7 1105.7,719.7 1105.3,722.7 1104.8,725.6 1104.4,728.5 1104.0,731.3 1103.6,734.1 1103.2,736.9 1102.9,739.7 1102.5,742.4 1102.1,745.1 1101.8,747.7 1101.4,750.3 1101.1,752.9 1100.8,755.5 1100.4,758.0 1100.1,760.5 1099.8,763.0 1099.5,765.5 1099.2,767.9 1098.9,770.3 1098.6,772.7 1098.3,775.0 1098.0,777.3 1097.8,779.6 1097.5,781.9 1097.2,784.2 1097.0,786.4 1096.7,788.6 1096.5,790.8 1096.2,793.0 1096.0,795.2 1095.7,797.3 1095.5,799.4 1095.3,801.5" stroke="#ff0000"/>
<polyline points="926.9,-117.5 1032.8,-24.5 1107.0,41.5 1149.3,92.7 1171.2,134.5 1182.4,169.8 1187.8,200.4 1190.1,227.5 1190.5,251.6 1189.9,273.5 1188.6,293.4 1187.0,311.8 1185.1,328.8 1183.0,344.6 1180.9,359.4 1178.8,373.3 1176.7,386.4 1174.5,398.8 1172.5,410.6 1170.5,421.8 1168.5,432.4 1166.6,442.6 1164.7,452.4 1162.9,461.7 1161.1,470.7 1159.4,479.4 1157.8,487.7 1156.2,495.8 1154.6,503.5 1153.1,511.1 1151.7,518.3 1150.3,525.4 1148.9,532.3 1147.6,538.9 1146.3,545.4 1145.0,551.6 1143.8,557.8 1142.7,563.7 1141.5,569.5 1140.4,575.2 1139.3,580.7 1138.3,586.1 1137.3,591.4 1136.3,596.5 1135.3,601.6 1134.4,606.5 1133.5,611.3 1132.6,616.1 1131.7,620.7 1130.9,625.2 1130.0,629.7 1129.2,634.1 1128.4,638.3 1127.7,642.5 1126.9,646.7 1126.2,650.7 1125.5,654.7 1124.8,658.6 1124.1,662.5 1123.5,666.3 1122.8,670.0 1122.2,673.7 1121.6,677.3 1121.0,680.9 1120.4,684.4 1119.8,687.8 1119.3,691.2 1118.7,694.6 1118.2,697.9 1117.6,701.1 1117.1,704.3 1116.6,707.5 1116.1,710.6 1115.7,713.7 1115.2,716.7 1114.7,719.7 1114.3,722.7 1113.8,725.6 1113.4,728.5 1113.0,731.3 1112.6,734.1 1112.1,736.9 1111.8,739.7 1111.4,742.4 1111.0,745.1 1110.6,747.7 1110.2,750.3 1109.9,752.9 1109.5,755.5 1109.2,758.0 1108.8,760.5 1108.5,763.0 1108.2,765.5 1107.9,767.9 1107.5,770.3 1107.2,772.7 1106.9,775.0 1106.6,777.3 1106.3,779.6 1106.1,781.9 1105.8,784.2 1105.5,786.4 1105.2,788.6 1105.0,790.8 1104.7,793.0 1104.5,795.2 1104.2,797.3 1104.0,799.4 1103.7,801.5" stroke="#ff0000"/>
<polyline points="979.2,-117.5 1087.0,-24.5 1153.5,41.5 1186.4,92.7 1201.7,134.5 1208.4,169.8 1210.8,200.4 1210.8,227.5 1209.7,251.6 1207.8,273.5 1205.5,293.4 1203.0,311.8 1200.4,328.8 1197.8,344.6 1195.2,359.4 1192.6,373.3 1190.1,386.4 1187.6,398.8 1185.3,410.6 1183.0,421.8 1180.7,432.4 1178.6,442.6 1176.5,452.4 1174.5,461.7 1172.6,470.7 1170.7,479.4 1168.9,487.7 1167.2,495.8 1165.5,503.5 1163.9,511.1 1162.3,518.3 1160.8,525.4 1159.3,532.3 1157.9,538.9 1156.5,545.4 1155.2,551.6 1153.9,557.8 1152.6,563.7 1151.4,569.5 1150.3,575.2 1149.1,580.7 1148.0,586.1 1146.9,591.4 1145.9,596.5 1144.8,601.6 1143.8,606.5 1142.9,611.3 1141.9,616.1 1141.0,620.7 1140.1,625.2 1139.3,629.7 1138.4,634.1 1137.6,638.3 1136.8,642.5 1136.0,646.7 1135.2,650.7 1134.5,654.7 1133.8,658.6 1133.0,662.5 1132.4,666.3 1131.7,670.0 1131.0,673.7 1130.4,677.3 1129.7,680.9 1129.1,684.4 1128.5,687.8 1127.9,691.2 1127.4,694.6 1126.8,697.9 1126.2,701.1 1125.7,704.3 1125.2,707.5 1124.7,710.6 1124.1,713.7 1123.7,716.7 1123.2,719.7 1122.7,722.7 1122.2,725.6 1121.8,728.5 1121.3,731.3 1120.9,734.1 1120.5,736.9 1120.1,739.7 1119.6,742.4 1119.2,745.1 1118.8,747.7 1118.5,750.3 1118.1,752.9 1117.7,755.5 1117.3,758.0 1117.0,760.5 1116.6,763.0 1116.3,765.5 1116.0,767.9 1115.6,770.3 1115.3,772.7 1115.0,775.0 1114.7,777.3 1114.4,779.6 1114.1,781.9 1113.8,784.2 1113.5,786.4 1113.2,788.6 1112.9,790.8 1112.7,793.0 1112.4,795.2 1112.1,797.3 1111.9,799.4 1111.6,801.5" stroke="#ff0000"/>
<polyline points="1031.2,-117.5 1137.8,-24.5 1194.0,41.5 1218.2,92.7 1227.9,134.5 1231.0,169.8 1230.9,200.4 1229.2,227.5 1226.7,251.6 1223.7,273.5 1220.6,293.4 1217.4,311.8 1214.2,328.8 1211.1,344.6 1208.1,359.4 1205.1,373.3 1202.3,386.4 1199.6,398.8 1196.9,410.6 1194.4,421.8 1192.0,432.4 1189.6,442.6 1187.4,452.4 1185.2,461.7 1183.1,470.7 1181.1,479.4 1179.2,487.7 1177.3,495.8 1175.5,503.5 1173.8,511.1 1172.1,518.3 1170.5,525.4 1169.0,532.3 1167.5,538.9 1166.0,545.4 1164.6,551.6 1163.2,557.8 1161.9,563.7 1160.6,569.5 1159.4,575.2 1158.2,580.7 1157.0,586.1 1155.9,591.4 1154.8,596.5 1153.7,601.6 1152.7,606.5 1151.6,611.3 1150.7,616.1 1149.7,620.7 1148.8,625.2 1147.9,629.7 1147.0,634.1 1146.1,638.3 1145.3,642.5 1144.4,646.7 1143.7,650.7 1142.9,654.7 1142.1,658.6 1141.4,662.5 1140.6,666.3 1139.9,670.0 1139.2,673.7 1138.6,677.3 1137.9,680.9 1137.3,684.4 1136.6,687.8 1136.0,691.2 1135.4,694.6 1134.8,697.9 1134.3,701.1 1133.7,704.3 1133.2,707.5 1132.6,710.6 1132.1,713.7 1131.6,716.7 1131.1,719.7 1130.6,722.7 1130.1,725.6 1129.6,728.5 1129.2,731.3 1128.7,734.1 1128.3,736.9 1127.8,739.7 1127.4,742.4 1127.0,745.1 1126.6,747.7 1126.2,750.3 1125.8,752.9 1125.4,755.5 1125.0,758.0 1124.6,760.5 1124.3,763.0 1123.9,765.5 1123.6,767.9 1123.2,770.3 1122.9,772.7 1122.6,775.0 1122.2,777.3 1121.9,779.6 1121.6,781.9 1121.3,784.2 1121.0,786.4 1120.7,788.6 1120.4,790.8 1120.1,793.0 1119.9,795.2 1119.6,797.3 1119.3,799.4 1119.1,801.5" stroke="#ff0000"/>
<polyline points="1082.5,-117.5 1184.1,-24.5 1229.0,41.5 1245.5,92.7 1250.6,134.5 1250.7,169.8 1248.6,200.4 1245.5,227.5 1241.9,251.6 1238.1,273.5 1234.2,293.4 1230.5,311.8 1226.8,328.8 1223.3,344.6 1219.9,359.4 1216.6,373.3 1213.5,386.4 1210.5,398.8 1207.6,410.6 1204.9,421.8 1202.3,432.4 1199.8,442.6 1197.4,452.4 1195.1,461.7 1192.9,470.7 1190.7,479.4 1188.7,487.7 1186.7,495.8 1184.8,503.5 1183.0,511.1 1181.3,518.3 1179.6,525.4 1177.9,532.3 1176.4,538.9 1174.8,545.4 1173.4,551.6 1171.9,557.8 1170.5,563.7 1169.2,569.5 1167.9,575.2 1166.6,580.7 1165.4,586.1 1164.2,591.4 1163.1,596.5 1162.0,601.6 1160.9,606.5 1159.8,611.3 1158.8,616.1 1157.8,620.7 1156.8,625.2 1155.9,629.7 1155.0,634.1 1154.1,638.3 1153.2,642.5 1152.4,646.7 1151.5,650.7 1150.7,654.7 1149.9,658.6 1149.2,662.5 1148.4,666.3 1147.7,670.0 1147.0,673.7 1146.3,677.3 1145.6,680.9 1144.9,684.4 1144.3,687.8 1143.6,691.2 1143.0,694.6 1142.4,697.9 1141.8,701.1 1141.2,704.3 1140.7,707.5 1140.1,710.6 1139.6,713.7 1139.0,716.7 1138.5,719.7 1138.0,722.7 1137.5,725.6 1137.0,728.5 1136.5,731.3 1136.0,734.1 1135.6,736.9 1135.1,739.7 1134.7,742.4 1134.3,745.1 1133.8,747.7 1133.4,750.3 1133.0,752.9 1132.6,755.5 1132.2,758.0 1131.8,760.5 1131.5,763.0 1131.1,765.5 1130.7,767.9 1130.4,770.3 1130.0,772.7 1129.7,775.0 1129.4,777.3 1129.0,779.6 1128.7,781.9 1128.4,784.2 1128.1,786.4 1127.8,788.6 1127.5,790.8 1127.2,793.0 1126.9,795.2 1126.6,797.3 1126.3,799.4 1126.1,801.5" stroke="#ff0000"/>
<polyline points="1132.6,-117.5 1225.2,-24.5 1259.1,41.5 1269.2,92.7 1270.5,134.5 1268.3,169.8 1264.5,200.4 1260.2,227.5 1255.6,251.6 1251.1,273.5 1246.6,293.4 1242.4,311.8 1238.3,328.8 1234.4,344.6 1230.7,359.4 1227.2,373.3 1223.8,386.4 1220.6,398.8 1217.5,410.6 1214.6,421.8 1211.9,432.4 1209.2,442.6 1206.7,452.4 1204.2,461.7 1201.9,470.7 1199.7,479.4 1197.5,487.7 1195.5,495.8 1193.5,503.5 1191.6,511.1 1189.8,518.3 1188.0,525.4 1186.3,532.3 1184.6,538.9 1183.1,545.4 1181.5,551.6 1180.0,557.8 1178.6,563.7 1177.2,569.5 1175.9,575.2 1174.6,580.7 1173.3,586.1 1172.1,591.4 1170.9,596.5 1169.7,601.6 1168.6,606.5 1167.5,611.3 1166.4,616.1 1165.4,620.7 1164.4,625.2 1163.4,629.7 1162.5,634.1 1161.6,638.3 1160.7,642.5 1159.8,646.7 1158.9,650.7 1158.1,654.7 1157.3,658.6 1156.5,662.5 1155.7,666.3 1154.9,670.0 1154.2,673.7 1153.5,677.3 1152.8,680.9 1152.1,684.4 1151.4,687.8 1150.8,691.2 1150.1,694.6 1149.5,697.9 1148.9,701.1 1148.3,704.3 1147.7,707.5 1147.1,710.6 1146.6,713.7 1146.0,716.7 1145.5,719.7 1145.0,722.7 1144.4,725.6 1143.9,728.5 1143.4,731.3 1143.0,734.1 1142.5,736.9 1142.0,739.7 1141.6,742.4 1141.1,745.1 1140.7,747.7 1140.3,750.3 1139.8,752.9 1139.4,755.5 1139.0,758.0 1138.6,760.5 1138.2,763.0 1137.9,765.5 1137.5,767.9 1137.1,770.3 1136.8,772.7 1136.4,775.0 1136.1,777.3 1135.7,779.6 1135.4,781.9 1135.1,784.2 1134.7,786.4 1134.4,788.6 1134.1,790.8 1133.8,793.0 1133.5,795.2 1133.2,797.3 1132.9,799.4 1132.7,801.5" stroke="#ff0000"/>
<path d="M156,92.5H1086M156,133.5H1086M156,169.5H1086M156,199.5H1086M156,226.5H1086M156,251.5H1086M156,410.5H1086M156,503.5H1086M156,569.5H1086M156,620.5H1086M156,662.5H1086" stroke="#000" stroke-dasharray="2 3"/>
<path d="M157,697.5H1086M157,727.5H1086M157,754.5H1086M157,779.5H1086" stroke="#000" stroke-dasharray="1 4"/>
</g>
<g clip-path="url(#c)" fill="none" stroke="#000" stroke-linejoin="round" shape-rendering="crispEdges">
<polyline points="848.3,781.7 847.7,781.4 847.1,781.0 846.4,780.6 845.8,780.3 845.2,780.0 844.6,779.6 843.9,779.3 843.3,778.9 842.6,778.6 841.9,778.3 841.1,777.9 840.4,777.6 839.6,777.3 839.0,777.0 838.3,776.6 837.8,776.1 837.4,775.6 837.0,775.0 836.7,774.4 836.5,773.8 836.3,773.2 836.1,772.5 835.9,771.8 835.6,771.1 835.3,770.4 835.1,769.6 834.8,768.8 834.5,767.9 834.2,767.1 833.9,766.4 833.6,765.6 833.3,765.0 833.0,764.4 832.7,764.0 832.3,763.5 832.0,763.1 831.6,762.7 831.2,762.4 830.6,762.0 830.0,761.7 829.2,761.4 828.4,761.1 827.4,760.8 826.4,760.5 825.3,760.2 824.3,760.0 823.2,759.7 822.2,759.4 821.2,759.1 820.1,758.7 819.0,758.4 818.0,758.0 816.9,757.7 816.0,757.3 815.1,757.0 814.4,756.7 813.8,756.5 813.3,756.3 812.9,756.1 812.5,756.0 812.3,755.8 812.1,755.6 812.0,755.4 811.9,755.0 811.9,754.5 812.0,754.0 812.2,753.3 812.5,752.7 812.8,752.0 813.1,751.3 813.5,750.6 813.9,750.0 814.3,749.4 814.8,748.9 815.3,748.3 815.9,747.8 816.5,747.3 817.1,746.7 817.7,746.2 818.3,745.6 818.9,745.0 819.5,744.5 820.2,743.9 820.8,743.4 821.4,742.8 822.1,742.1 822.7,741.4 823.3,740.6 823.9,739.7 824.5,738.8 825.1,737.7 825.7,736.6 826.3,735.5 826.8,734.4 827.3,733.3 827.8,732.2 828.3,731.1 828.7,730.0 829.1,728.9 829.5,727.9 829.9,726.7 830.2,725.6 830.5,724.5 830.7,723.3 830.9,722.1 831.0,721.0 831.0,719.8 831.1,718.6 831.0,717.4 831.0,716.1 830.9,714.8 830.7,713.3 830.5,711.7 830.2,710.0 829.8,708.2 829.5,706.3 829.1,704.4 828.6,702.5 828.2,700.7 827.8,698.9 827.4,697.2 827.0,695.5 826.6,693.8 826.1,692.2 825.7,690.5 825.3,688.9 824.8,687.3 824.4,685.6 824.0,683.9 823.6,682.3 823.2,680.7 822.7,679.0 822.3,677.4 821.9,675.7 821.5,674.0 821.1,672.2 820.7,670.3 820.3,668.4 819.9,666.3 819.5,664.3 819.1,662.3 818.7,660.3 818.3,658.4 817.8,656.7 817.3,655.1 816.8,653.5 816.2,652.0 815.6,650.6 815.0,649.2 814.4,648.0 813.9,646.7 813.3,645.6 812.8,644.6 812.3,643.7 811.8,643.0 811.4,642.2 810.9,641.5 810.3,640.8 809.7,639.9 808.9,638.9 808.0,637.7 807.0,636.4 805.9,635.0 804.7,633.6 803.5,632.1 802.3,630.6 801.1,629.2 800.0,627.8 798.9,626.5 797.9,625.3 796.8,624.1 795.8,622.9 794.7,621.7 793.6,620.4 792.4,619.2 791.1,617.8 789.7,616.4 788.3,615.0 786.9,613.6 785.4,612.1 783.8,610.6 782.0,609.0 780.1,607.3 778.0,605.5 775.6,603.6 773.0,601.5 770.2,599.3 767.2,597.0 764.2,594.8 761.2,592.5 758.3,590.4 755.6,588.3 753.0,586.3 750.5,584.4 748.0,582.6 745.6,580.8 743.2,579.0 740.8,577.2 738.4,575.4 736.0,573.6 733.6,571.7 731.1,569.8 728.7,567.9 726.2,566.0 723.8,564.1 721.4,562.3 718.9,560.6 716.5,558.9 714.1,557.4 711.6,555.9 709.2,554.6 706.7,553.2 704.2,552.0 701.8,550.6 699.3,549.3 696.9,547.9 694.5,546.4 692.0,544.9 689.6,543.4 687.1,541.8 684.7,540.2 682.3,538.7 679.8,537.2 677.4,535.7 675.0,534.3 672.5,532.9 670.1,531.5 667.6,530.2 665.2,528.9 662.7,527.5 660.3,526.1 657.8,524.7 655.3,523.2 652.8,521.6 650.2,520.0 647.7,518.4 645.2,516.8 642.7,515.3 640.4,513.8 638.2,512.5 636.2,511.3 634.3,510.3 632.6,509.4 630.9,508.6 629.2,507.7 627.5,506.8 625.6,505.8 623.6,504.6 621.4,503.2 619.1,501.7 616.7,500.1 614.2,498.5 611.7,496.8 609.1,495.1 606.5,493.4 604.0,491.7 601.4,490.1 598.7,488.4 596.0,486.7 593.3,485.0 590.6,483.4 588.0,481.7 585.6,480.1 583.3,478.6 581.2,477.1 579.3,475.6 577.5,474.1 575.7,472.7 574.1,471.4 572.6,470.1 571.2,468.8 569.8,467.7 568.5,466.7 567.4,465.8 566.4,465.0 565.5,464.2 564.6,463.5 563.8,462.8 562.9,462.1 562.0,461.4 561.1,460.7 560.2,460.0 559.3,459.3 558.4,458.7 557.5,458.0 556.7,457.4 555.8,456.7 555.0,456.0 554.2,455.3 553.4,454.5 552.6,453.8 551.8,453.1 551.0,452.3 550.3,451.5 549.5,450.7 548.8,449.8 548.1,448.9 547.4,448.0 546.6,447.1 546.0,446.1 545.3,445.1 544.6,444.1 543.9,443.1 543.3,442.0 542.7,440.9 542.1,439.8 541.5,438.6 540.9,437.5 540.4,436.3 539.8,435.1 539.3,433.9 538.7,432.7 538.1,431.5 537.6,430.3 537.0,429.1 536.4,427.9 535.9,426.7 535.4,425.5 534.9,424.4 534.4,423.3 534.0,422.3 533.6,421.3 533.2,420.3 532.9,419.4 532.5,418.4 532.2,417.5 531.9,416.6 531.7,415.6 531.5,414.6 531.3,413.7 531.1,412.7 531.0,411.7 530.8,410.7 530.7,409.8 530.6,408.8 530.6,407.8 530.6,406.9 530.6,406.1 530.6,405.3 530.6,404.5 530.7,403.6 530.8,402.6 530.9,401.4 531.1,400.0 531.3,398.3 531.5,396.4 531.7,394.3 531.9,392.1 532.2,389.8 532.5,387.5 532.9,385.1 533.3,382.8 533.8,380.5 534.4,378.0 535.0,375.5 535.7,373.0 536.5,370.5 537.2,368.0 538.0,365.6 538.9,363.3 539.8,361.1 540.7,359.0 541.7,356.9 542.7,354.9 543.8,352.9 544.9,350.9 546.0,348.8 547.2,346.7 548.5,344.5 549.8,342.2 551.2,339.9 552.6,337.6 554.0,335.2 555.5,333.0 556.9,330.7 558.3,328.6 559.7,326.5 561.1,324.5 562.5,322.6 563.8,320.7 565.2,318.8 566.6,317.0 568.0,315.1 569.4,313.3 570.8,311.5 572.2,309.7 573.6,308.0 575.0,306.3 576.4,304.5 577.8,302.8 579.2,301.1 580.6,299.4 582.0,297.7 583.4,295.9 584.8,294.2 586.2,292.4 587.5,290.7 588.9,289.0 590.3,287.3 591.7,285.6 593.1,284.0 594.4,282.4 595.7,280.8 597.1,279.2 598.4,277.6 599.8,276.1 601.3,274.6 602.8,273.1 604.4,271.6 606.0,270.2 607.7,268.8 609.4,267.5 611.2,266.1 613.0,264.7 614.8,263.3 616.7,261.9 618.6,260.4 620.7,259.0 622.7,257.5 624.8,256.0 626.9,254.5 629.1,253.0 631.2,251.5 633.3,250.0 635.3,248.6 637.2,247.1 639.1,245.8 641.0,244.4 643.0,242.9 645.1,241.5 647.4,239.9 650.0,238.3 652.7,236.6 655.5,235.0 658.4,233.3 661.4,231.5 664.7,229.6 668.4,227.6 672.4,225.4 676.8,222.9 681.8,220.1 687.5,217.0 693.6,213.7 699.9,210.3 706.4,206.8 712.8,203.2 719.1,199.8 725.0,196.5 730.6,193.3 736.0,190.2 741.4,187.1 746.6,184.0 751.8,180.9 757.0,177.9 762.2,174.9 767.5,171.9 772.8,169.0 778.1,166.1 783.4,163.2 788.8,160.4 794.1,157.6 799.4,154.8 804.7,152.0 810.0,149.2 815.4,146.3 820.8,143.5 826.2,140.6 831.6,137.7 837.0,134.8 842.3,132.0 847.5,129.3 852.5,126.6 857.3,124.1 862.0,121.7 866.5,119.4 870.9,117.1 875.3,114.8 879.8,112.5 884.5,110.1 889.3,107.6 894.4,104.9 899.7,102.0 905.2,99.1 910.7,96.1 916.2,93.1 921.6,90.2 926.9,87.5 931.8,84.9 936.6,82.5 941.5,80.1 946.4,77.7 951.1,75.5 955.5,73.4 959.5,71.5 962.9,69.9 965.8,68.5 967.9,67.4 969.3,66.7 970.2,66.2 970.6,65.9 970.9,65.7 971.1,65.6 971.4,65.3 972.0,65.0" stroke-width="4.4" stroke-linecap="round"/>
<polyline points="748.5,781.7 747.3,780.8 746.2,779.9 745.1,779.1 744.0,778.2 742.9,777.3 741.7,776.4 740.4,775.5 739.0,774.5 737.5,773.5 735.9,772.4 734.3,771.2 732.6,770.1 730.8,769.0 729.0,767.9 727.3,766.9 725.5,766.0 723.7,765.2 721.9,764.5 720.0,763.9 718.1,763.4 716.2,762.8 714.4,762.4 712.7,761.9 711.0,761.5 709.5,761.1 708.3,760.9 707.1,760.6 705.9,760.4 704.8,760.2 703.4,760.0 701.9,759.7 700.0,759.3 697.8,758.8 695.4,758.3 692.8,757.7 690.0,757.1 687.1,756.5 684.2,755.8 681.2,755.0 678.3,754.2 675.3,753.3 672.3,752.3 669.2,751.3 666.0,750.2 662.8,749.0 659.6,747.9 656.4,746.8 653.3,745.8 650.2,744.8 647.0,743.9 643.9,743.0 640.8,742.0 637.7,741.1 634.5,740.2 631.4,739.3 628.3,738.3 625.1,737.3 621.9,736.2 618.6,735.2 615.3,734.1 612.1,733.0 609.0,732.0 606.0,731.0 603.3,730.0 600.8,729.1 598.6,728.2 596.5,727.4 594.5,726.5 592.6,725.7 590.7,724.9 588.7,724.1 586.7,723.3 584.6,722.5 582.4,721.7 580.2,720.9 578.0,720.1 575.9,719.3 573.8,718.5 571.8,717.8 570.0,717.0 568.4,716.3 567.1,715.6 565.9,714.9 564.8,714.2 563.6,713.5 562.2,712.8 560.6,712.0 558.7,711.1 556.4,710.1 553.8,709.1 550.9,708.0 547.9,706.8 544.8,705.7 541.7,704.5 538.6,703.3 535.6,702.2 532.7,701.1 529.8,700.0 526.8,698.8 523.9,697.7 521.0,696.6 518.1,695.5 515.2,694.4 512.4,693.3 509.6,692.3 506.9,691.2 504.2,690.2 501.5,689.2 498.9,688.3 496.3,687.3 493.7,686.3 491.1,685.3 488.5,684.3 486.0,683.4 483.5,682.4 481.0,681.4 478.5,680.5 476.2,679.5 473.8,678.4 471.6,677.3 469.4,676.1 467.2,674.8 465.0,673.4 463.0,672.0 461.0,670.6 459.1,669.3 457.5,668.1 456.0,667.0 454.8,666.0 453.8,665.2 453.0,664.4 452.3,663.7 451.8,663.1 451.2,662.4 450.6,661.7 450.0,661.0 449.3,660.3 448.6,659.5 448.0,658.8 447.3,658.1 446.7,657.3 446.1,656.6 445.5,655.8 445.0,655.0 444.5,654.2 444.1,653.3 443.7,652.4 443.3,651.6 442.9,650.7 442.6,649.8 442.3,648.9 442.0,648.0 441.7,647.1 441.5,646.3 441.3,645.5 441.1,644.6 440.9,643.8 440.7,642.9 440.6,642.0 440.5,641.0 440.4,640.0 440.4,638.8 440.3,637.6 440.3,636.4 440.4,635.2 440.4,634.1 440.4,633.0 440.5,632.0 440.5,631.1 440.6,630.3 440.6,629.5 440.7,628.7 440.8,628.0 440.9,627.3 441.2,626.7 441.5,626.0 441.9,625.3 442.4,624.7 443.0,624.1 443.6,623.5 444.3,622.9 445.0,622.4 445.8,621.8 446.7,621.3 447.5,620.8 448.3,620.5 449.1,620.1 450.0,619.8 451.1,619.5 452.3,619.0 453.8,618.5 455.6,617.8 457.8,616.9 460.4,616.0 463.3,614.9 466.4,613.7 469.5,612.5 472.7,611.3 475.8,610.0 478.7,608.9 481.4,607.8 484.2,606.6 486.8,605.5 489.5,604.3 492.1,603.2 494.7,602.1 497.3,601.0 500.0,600.0 502.7,599.0 505.4,598.1 508.1,597.2 510.8,596.3 513.4,595.5 516.1,594.6 518.7,593.8 521.3,592.9 523.8,592.0 526.4,591.1 528.9,590.2 531.3,589.3 533.8,588.5 536.2,587.6 538.5,586.7 540.9,585.8 543.3,584.9 545.7,583.9 548.2,582.9 550.6,581.9 552.9,580.9 555.1,580.1 557.0,579.3 558.7,578.7 560.1,578.3 561.1,578.0 562.0,577.8 562.7,577.7 563.3,577.6 563.9,577.6 564.5,577.5 565.3,577.3 566.1,577.1 566.9,576.9 567.7,576.7 568.6,576.4 569.4,576.2 570.2,575.9 571.1,575.6 572.0,575.3 572.9,575.0 573.9,574.6 574.9,574.3 575.9,573.9 576.9,573.5 578.0,573.1 579.0,572.6 580.0,572.0 581.0,571.3 582.1,570.5 583.1,569.5 584.2,568.6 585.2,567.6 586.2,566.7 587.1,565.9 588.0,565.3 588.8,564.8 589.5,564.5 590.1,564.2 590.7,564.1 591.3,563.9 591.9,563.8 592.6,563.6 593.3,563.3 594.1,563.0 594.9,562.6 595.7,562.2 596.5,561.9 597.4,561.5 598.2,561.1 599.1,560.7 600.0,560.3 600.9,559.9 601.8,559.6 602.8,559.2 603.7,558.9 604.6,558.5 605.6,558.2 606.4,557.8 607.3,557.3 608.1,556.8 609.0,556.3 609.8,555.7 610.6,555.1 611.3,554.5 612.1,553.9 612.7,553.3 613.3,552.7 613.8,552.1 614.2,551.6 614.6,551.0 614.9,550.4 615.2,549.9 615.5,549.3 615.8,548.7 616.0,548.0 616.2,547.3 616.4,546.6 616.6,545.9 616.7,545.1 616.8,544.4 617.0,543.6 617.1,542.8 617.3,542.0 617.5,541.2 617.9,540.3 618.2,539.4 618.5,538.6 618.9,537.7 619.1,536.8 619.3,536.0 619.3,535.3 619.2,534.6 619.1,534.0 618.9,533.5 618.6,533.0 618.2,532.4 617.8,531.9 617.3,531.3 616.7,530.7 616.0,530.0 615.2,529.3 614.2,528.5 613.2,527.7 612.2,526.9 611.2,526.1 610.2,525.4 609.3,524.7 608.5,524.2 607.8,523.7 607.2,523.4 606.5,523.0 605.9,522.6 605.1,522.1 604.3,521.5 603.3,520.7 602.2,519.7 600.9,518.5 599.6,517.1 598.1,515.7 596.7,514.2 595.1,512.7 593.6,511.2 592.0,509.8 590.4,508.5 588.7,507.1 586.9,505.8 585.2,504.5 583.4,503.2 581.6,501.9 579.8,500.6 578.0,499.3 576.3,498.1 574.5,496.8 572.8,495.6 571.0,494.4 569.3,493.2 567.5,492.0 565.8,490.9 564.0,489.7 562.2,488.6 560.4,487.5 558.6,486.4 556.8,485.4 555.0,484.3 553.2,483.2 551.5,482.1 549.8,481.0 548.2,479.9 546.9,478.8 545.5,477.7 544.2,476.7 542.9,475.5 541.3,474.2 539.5,472.8 537.4,471.2 534.9,469.4 532.0,467.3 528.9,465.0 525.6,462.7 522.3,460.3 519.0,458.0 515.8,455.7 512.9,453.6 510.2,451.6 507.6,449.8 505.0,448.0 502.6,446.2 500.2,444.5 497.8,442.7 495.5,440.8 493.3,438.9 491.1,436.9 489.0,434.8 486.9,432.7 484.9,430.5 482.9,428.3 481.0,426.1 479.2,424.0 477.5,421.8 475.9,419.7 474.3,417.6 472.9,415.5 471.5,413.4 470.2,411.3 468.9,409.2 467.7,407.0 466.5,404.7 465.4,402.4 464.4,400.0 463.5,397.5 462.6,395.0 461.7,392.6 460.9,390.1 460.0,387.6 459.1,385.1 458.2,382.7 457.2,380.2 456.2,377.8 455.2,375.4 454.2,372.9 453.3,370.5 452.5,368.0 451.8,365.6 451.2,363.1 450.7,360.6 450.3,358.1 449.9,355.7 449.6,353.2 449.4,350.7 449.1,348.3 448.9,346.0 448.7,343.7 448.5,341.5 448.3,339.4 448.2,337.3 448.1,335.2 448.0,333.1 448.0,331.0 448.1,328.9 448.2,326.8 448.4,324.6 448.6,322.5 448.9,320.3 449.3,318.2 449.6,316.1 450.1,313.9 450.6,311.8 451.2,309.6 451.8,307.4 452.6,305.2 453.4,302.9 454.2,300.7 455.0,298.6 455.9,296.6 456.7,294.7 457.5,293.1 458.3,291.6 459.0,290.4 459.8,289.2 460.7,287.9 461.6,286.6 462.7,284.9 464.0,283.0 465.3,280.8 466.7,278.6 468.1,276.3 469.7,273.7 471.4,270.9 473.5,267.8 475.8,264.4 478.6,260.6 481.9,256.3 485.6,251.4 489.7,246.2 494.0,240.7 498.5,235.1 503.1,229.4 507.5,223.8 511.8,218.4 515.9,213.1 520.0,207.8 524.1,202.6 528.2,197.3 532.4,192.0 536.5,186.7 540.7,181.5 545.0,176.3 549.4,171.1 553.8,165.8 558.3,160.5 562.9,155.2 567.5,150.0 572.0,145.0 576.4,140.1 580.8,135.4 585.1,131.0 589.3,126.8 593.5,122.7 597.6,118.8 601.8,115.0 605.9,111.2 609.9,107.3 614.0,103.4 618.0,99.4 622.1,95.4 626.1,91.4 630.0,87.4 634.0,83.5 638.0,79.5 641.9,75.5 645.9,71.5" stroke-width="4.4" stroke-dasharray="11 5.5"/>
</g>
<g stroke="#000" stroke-width="1" fill="none" shape-rendering="crispEdges">
<rect x="156.5" y="68.5" width="930" height="733"/>
<path d="M207.5,801V791M207.5,68V78M311.5,801V791M311.5,68V78M414.5,801V791M414.5,68V78M517.5,801V791M517.5,68V78M621.5,801V791M621.5,68V78M724.5,801V791M724.5,68V78M827.5,801V791M827.5,68V78M931.5,801V791M931.5,68V78M1034.5,801V791M1034.5,68V78M156,92.5H166M1087,92.5H1076M156,133.5H166M1087,133.5H1076M156,169.5H166M1087,169.5H1076M156,199.5H166M1087,199.5H1076M156,226.5H166M1087,226.5H1076M156,251.5H166M1087,251.5H1076M156,410.5H166M1087,410.5H1076M156,503.5H166M1087,503.5H1076M156,569.5H166M1087,569.5H1076M156,620.5H166M1087,620.5H1076M156,662.5H166M1087,662.5H1076M156,697.5H166M1087,697.5H1076M156,727.5H166M1087,727.5H1076M156,754.5H166M1087,754.5H1076M156,779.5H166M1087,779.5H1076"/>
</g>
<g font-weight="bold" font-size="18" fill="#000">
<text x="203.55" y="830" text-anchor="middle" textLength="27.8" lengthAdjust="spacingAndGlyphs">-40</text>
<text x="307.25" y="830" text-anchor="middle" textLength="27.8" lengthAdjust="spacingAndGlyphs">-30</text>
<text x="410.15" y="830" text-anchor="middle" textLength="27.8" lengthAdjust="spacingAndGlyphs">-20</text>
<text x="513.25" y="830" text-anchor="middle" textLength="27.8" lengthAdjust="spacingAndGlyphs">-10</text>
<text x="620.40" y="830" text-anchor="middle" textLength="10.7" lengthAdjust="spacingAndGlyphs">0</text>
<text x="723.55" y="830" text-anchor="middle" textLength="21.4" lengthAdjust="spacingAndGlyphs">10</text>
<text x="826.15" y="830" text-anchor="middle" textLength="21.4" lengthAdjust="spacingAndGlyphs">20</text>
<text x="929.95" y="830" text-anchor="middle" textLength="21.4" lengthAdjust="spacingAndGlyphs">30</text>
<text x="1033.15" y="830" text-anchor="middle" textLength="21.4" lengthAdjust="spacingAndGlyphs">40</text>
<text x="149.7" y="101" text-anchor="end">50</text>
<text x="149.7" y="142" text-anchor="end">60</text>
<text x="149.7" y="178" text-anchor="end">70</text>
<text x="149.7" y="208" text-anchor="end">80</text>
<text x="149.7" y="235" text-anchor="end">90</text>
<text x="149.7" y="260" text-anchor="end">100</text>
<text x="149.7" y="419" text-anchor="end">200</text>
<text x="149.7" y="512" text-anchor="end">300</text>
<text x="149.7" y="578" text-anchor="end">400</text>
<text x="149.7" y="629" text-anchor="end">500</text>
<text x="149.7" y="671" text-anchor="end">600</text>
<text x="149.7" y="706" text-anchor="end">700</text>
<text x="149.7" y="736" text-anchor="end">800</text>
<text x="149.7" y="763" text-anchor="end">900</text>
<text x="149.7" y="788" text-anchor="end">1000</text>
<text x="1104.9" y="645.0" textLength="31.2" lengthAdjust="spacingAndGlyphs">535</text>
<text x="1104.9" y="693.5" textLength="31.2" lengthAdjust="spacingAndGlyphs">661</text>
<text x="1104.9" y="701.0" textLength="31.2" lengthAdjust="spacingAndGlyphs">683</text>
<text x="1104.9" y="708.3" textLength="31.2" lengthAdjust="spacingAndGlyphs">705</text>
<text x="1104.9" y="715.6" textLength="31.2" lengthAdjust="spacingAndGlyphs">728</text>
<text x="1104.9" y="723.4" textLength="31.2" lengthAdjust="spacingAndGlyphs">753</text>
<text x="1104.9" y="751.7" textLength="31.2" lengthAdjust="spacingAndGlyphs">852</text>
<text x="1104.9" y="758.6" textLength="31.2" lengthAdjust="spacingAndGlyphs">878</text>
<text x="1104.9" y="765.3" textLength="31.2" lengthAdjust="spacingAndGlyphs">904</text>
<text x="1104.9" y="772.0" textLength="31.2" lengthAdjust="spacingAndGlyphs">931</text>
</g>
<text x="221.9" y="52" font-size="26.5" textLength="797.6" lengthAdjust="spacingAndGlyphs">Scanning-HIS RT-DR Mean Retrieval : 23-Sep-2012 13:53:04 - 13:53:55</text>
<text x="546.2" y="855.5" font-size="18" font-weight="bold" textLength="148.1" lengthAdjust="spacingAndGlyphs">Temperature (C)</text>
<text transform="translate(95.2,501) rotate(-90)" font-size="18" font-weight="bold" textLength="129.8" lengthAdjust="spacingAndGlyphs">Pressure (mb)</text>
</svg></body></html>
